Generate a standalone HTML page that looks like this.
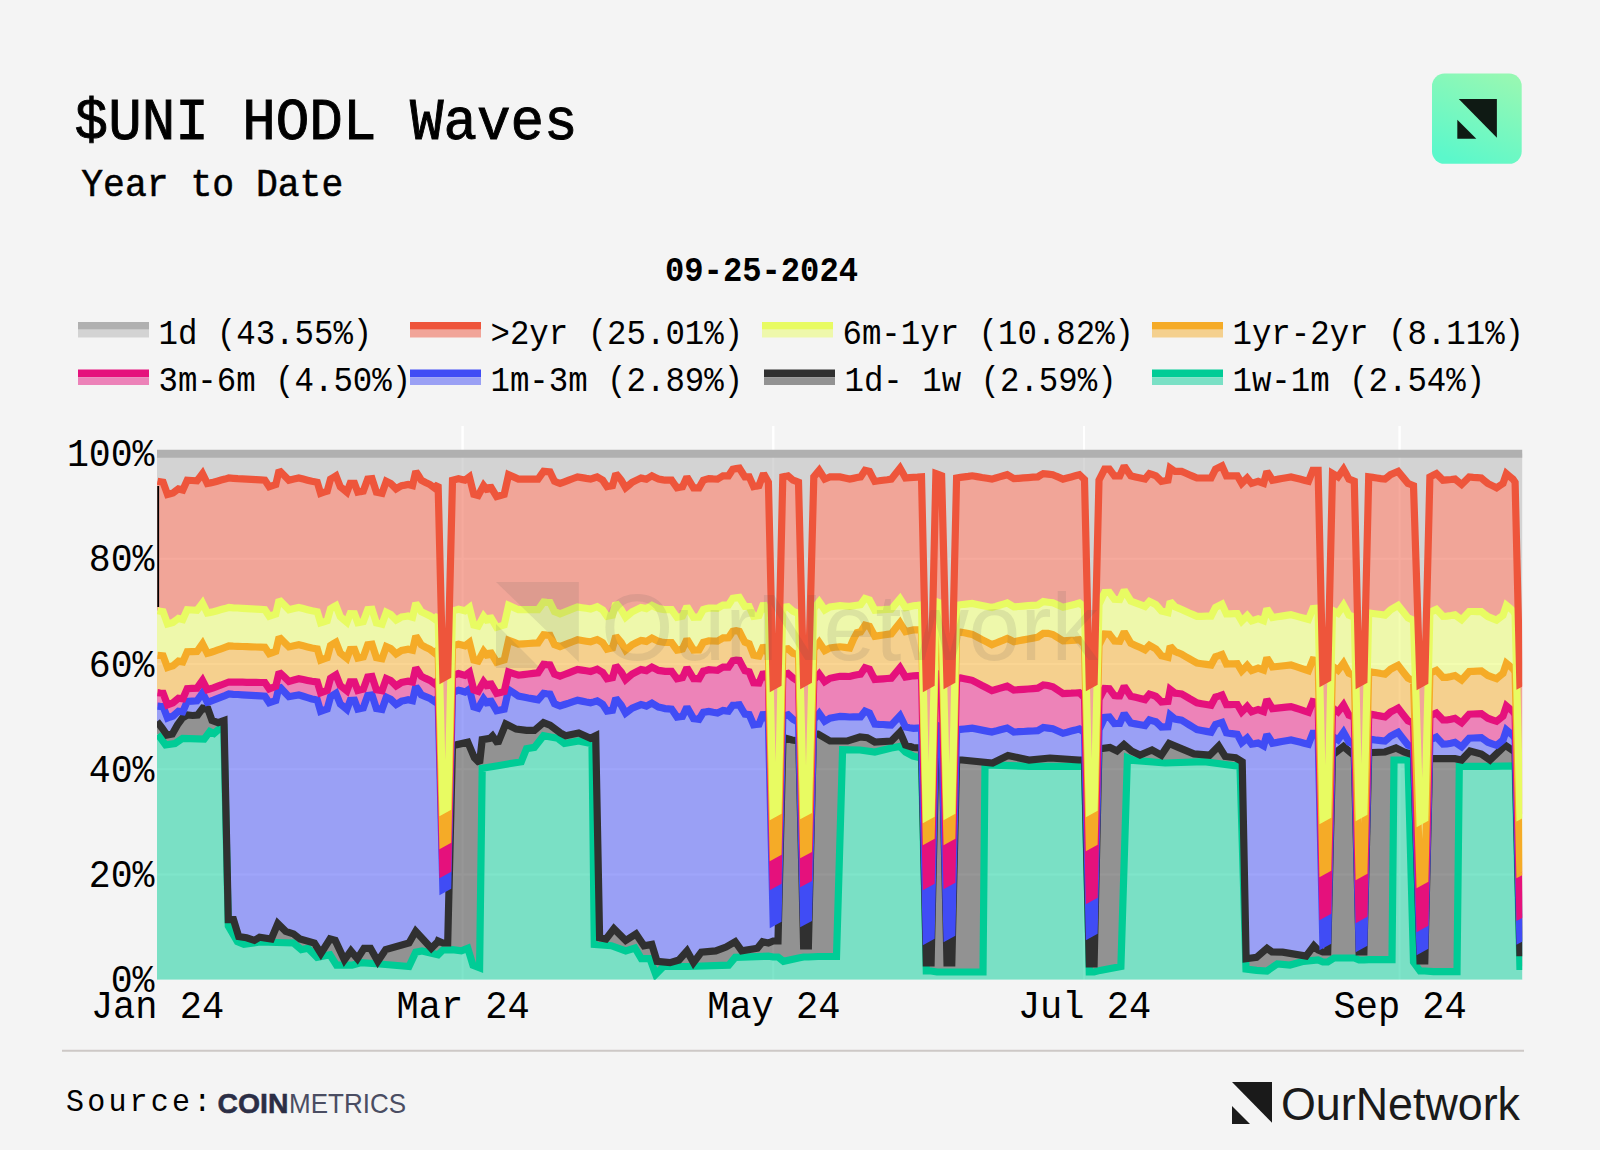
<!DOCTYPE html>
<html><head><meta charset="utf-8"><style>html,body{margin:0;padding:0;background:#f4f4f4;width:1600px;height:1150px;overflow:hidden;position:relative}</style></head>
<body>
<svg width="1600" height="1150" viewBox="0 0 1600 1150" style="position:absolute;left:0;top:0">
<defs><clipPath id="pc"><rect x="157.0" y="426.0" width="1365.2" height="553.7"/></clipPath>
<linearGradient id="lg" x1="0.3" y1="1" x2="0.75" y2="0"><stop offset="0" stop-color="#5bf8cb"/><stop offset="1" stop-color="#96f8b3"/></linearGradient></defs>
<line x1="462.6" y1="426.0" x2="462.6" y2="453.5" stroke="#ffffff" stroke-width="2"/>
<line x1="773.3" y1="426.0" x2="773.3" y2="453.5" stroke="#ffffff" stroke-width="2"/>
<line x1="1084.0" y1="426.0" x2="1084.0" y2="453.5" stroke="#ffffff" stroke-width="2"/>
<line x1="1399.6" y1="426.0" x2="1399.6" y2="453.5" stroke="#ffffff" stroke-width="2"/>
<g clip-path="url(#pc)">
<path d="M157.0 874.5H1522.2 M157.0 769.2H1522.2 M157.0 664.0H1522.2 M157.0 558.7H1522.2 M462.6 426.0V979.7 M773.3 426.0V979.7 M1084.0 426.0V979.7 M1399.6 426.0V979.7" stroke="#ffffff" stroke-width="2" fill="none"/>
<polygon points="147.0,453.8 147.0,453.8 1532.2,453.8 1532.2,453.8 1532.2,681.3 1524.7,681.3 1519.9,683.9 1515.1,482.3 1513.0,479.1 1509.7,476.4 1506.4,473.6 1503.0,483.4 1499.8,485.6 1496.6,487.8 1492.2,485.6 1487.8,483.4 1484.5,480.7 1481.3,478.0 1477.3,477.6 1473.2,477.3 1469.2,476.9 1465.4,480.7 1461.6,484.5 1458.3,481.8 1455.0,479.1 1451.0,479.5 1447.0,479.8 1443.0,480.2 1439.7,476.9 1436.4,473.6 1433.2,475.2 1429.9,476.9 1424.8,681.7 1420.0,684.3 1413.5,485.6 1410.8,484.5 1408.0,483.4 1403.0,477.4 1398.1,471.4 1394.3,473.0 1390.5,474.7 1387.8,476.9 1385.0,479.1 1380.9,478.6 1376.8,478.0 1372.8,477.4 1368.7,476.9 1363.9,680.7 1359.1,683.3 1354.3,481.3 1351.6,480.2 1348.9,479.1 1346.2,474.1 1343.5,469.2 1340.8,473.0 1338.0,476.9 1335.2,475.2 1332.5,473.6 1327.7,678.7 1322.9,681.3 1318.1,470.3 1315.4,470.3 1312.8,470.3 1308.5,481.3 1304.1,480.2 1299.8,479.1 1295.4,478.0 1291.0,476.9 1286.3,477.7 1281.7,478.5 1277.1,479.4 1272.4,480.2 1269.7,475.8 1266.9,471.4 1263.6,483.4 1260.8,482.4 1258.1,481.3 1254.8,482.4 1251.6,483.4 1247.2,478.0 1244.5,480.7 1241.7,483.4 1237.3,475.8 1233.7,475.8 1230.0,475.8 1226.4,475.8 1222.0,466.0 1218.8,467.6 1215.5,469.2 1211.1,478.0 1206.4,478.0 1201.6,478.0 1196.9,478.0 1193.1,476.4 1189.2,474.7 1185.4,473.0 1181.6,471.4 1178.3,471.4 1175.0,471.4 1170.2,468.1 1168.0,480.2 1164.7,480.8 1161.4,481.3 1158.7,478.6 1155.9,475.8 1152.7,474.7 1149.4,473.6 1145.0,479.1 1140.3,478.0 1135.5,476.9 1130.8,475.8 1127.5,470.9 1124.2,466.0 1119.8,475.8 1117.1,475.8 1114.4,475.8 1109.4,469.2 1104.6,469.2 1101.8,474.7 1099.0,480.2 1094.1,682.7 1089.3,685.3 1084.5,479.5 1079.4,474.7 1075.3,475.8 1071.2,476.9 1067.1,478.0 1063.0,479.1 1059.6,477.6 1056.2,476.2 1052.8,474.7 1048.0,474.1 1043.3,473.6 1040.5,475.2 1037.8,476.9 1033.0,477.2 1028.2,477.6 1023.4,477.9 1018.6,478.3 1013.8,478.6 1010.5,476.6 1007.2,474.7 1003.4,475.8 999.5,476.9 995.7,478.0 991.9,479.1 987.0,478.3 982.0,477.5 977.1,476.6 972.2,475.8 968.3,476.4 964.4,476.9 960.5,477.4 956.6,478.0 951.8,680.7 947.0,683.3 941.6,475.8 938.8,474.7 935.9,473.6 931.1,683.7 926.3,686.3 921.5,476.9 917.5,477.2 913.5,477.4 909.5,477.7 905.5,478.0 902.8,473.1 900.0,468.1 895.6,473.6 891.3,479.1 887.2,479.7 883.0,480.2 878.9,480.8 874.8,481.3 872.1,476.4 869.5,471.4 865.0,470.3 860.6,476.9 857.0,477.6 853.3,478.4 849.7,479.1 844.9,478.0 840.0,476.9 835.0,476.9 830.0,476.9 827.4,478.0 824.7,479.1 822.0,474.7 819.2,470.3 816.5,473.6 813.8,476.9 808.4,680.7 803.6,683.3 798.5,482.3 795.8,481.2 793.0,480.2 788.0,475.8 785.4,476.4 782.8,476.9 778.0,683.7 773.2,686.3 768.4,482.3 763.5,473.6 759.0,485.6 756.3,486.1 753.6,486.7 749.2,476.9 744.9,476.9 742.1,472.5 739.4,468.1 736.1,468.6 732.8,469.2 728.5,475.8 725.8,475.8 723.0,475.8 720.2,477.5 717.5,479.1 713.1,478.9 708.8,478.6 706.0,479.4 703.3,480.2 699.0,487.8 696.2,487.8 693.5,487.8 690.2,482.4 686.9,476.9 682.5,486.7 679.8,487.2 677.0,487.8 674.3,484.0 671.6,480.2 668.3,480.2 665.0,480.2 661.8,479.6 658.5,479.1 655.2,477.5 651.9,475.8 649.1,477.5 646.4,479.1 643.7,478.6 641.0,478.0 636.6,480.1 632.2,482.3 628.9,485.1 625.6,487.8 621.3,480.2 618.5,476.9 615.8,473.6 612.5,485.6 609.8,486.1 607.0,486.7 602.7,480.2 600.0,478.5 597.2,476.9 593.9,478.0 590.6,479.1 586.2,478.4 581.9,477.6 577.5,476.9 573.1,478.5 568.8,480.1 564.4,481.8 560.0,483.4 557.2,482.4 554.5,481.3 550.0,472.0 546.8,471.7 543.6,471.4 540.9,475.2 538.1,479.1 533.2,479.1 528.2,479.1 523.3,479.1 518.4,479.1 513.5,476.9 508.6,474.7 504.2,494.4 500.4,495.5 496.6,496.6 493.3,491.1 490.0,485.6 488.0,491.1 483.6,485.6 480.9,490.6 478.2,495.5 473.8,494.4 469.4,476.9 465.0,480.2 461.8,479.4 458.5,478.6 455.5,479.4 452.5,480.2 447.7,675.7 442.9,678.3 438.1,484.5 434.4,487.8 430.0,484.5 425.6,482.4 421.3,480.2 418.6,475.8 415.8,471.4 412.5,485.6 408.1,484.5 404.9,485.1 401.6,485.6 398.9,487.2 396.1,488.9 393.4,486.1 390.7,483.4 386.3,481.3 382.0,493.3 379.2,492.8 376.4,492.2 372.0,478.6 367.7,479.1 363.3,491.1 360.6,491.6 357.8,492.2 354.5,483.4 350.2,483.4 346.9,492.2 343.6,489.4 340.3,486.7 336.0,475.8 333.2,477.5 330.5,479.1 327.2,491.1 323.9,492.2 320.6,493.3 317.3,482.3 314.6,481.8 311.9,481.3 307.5,480.2 303.2,479.1 298.8,478.0 293.9,479.1 288.9,480.2 284.0,475.2 279.1,470.3 275.8,484.5 272.5,485.6 269.2,486.7 264.9,480.2 260.4,479.9 255.9,479.6 251.4,479.4 246.8,479.1 242.3,478.8 237.8,478.6 233.3,478.3 228.8,478.0 225.0,479.1 221.1,480.1 217.2,481.2 213.4,482.3 210.4,482.9 207.3,483.4 202.5,473.6 199.8,477.2 197.0,480.8 192.1,480.5 187.2,480.2 182.8,490.0 178.4,488.9 175.7,490.9 173.0,493.0 170.2,493.7 167.5,494.4 163.1,482.3 160.3,481.8 157.5,481.3 147.0,481.3" fill="#b2b2b2" fill-opacity="0.5"/>
<polygon points="147.0,481.3 157.5,481.3 160.3,481.8 163.1,482.3 167.5,494.4 170.2,493.7 173.0,493.0 175.7,490.9 178.4,488.9 182.8,490.0 187.2,480.2 192.1,480.5 197.0,480.8 199.8,477.2 202.5,473.6 207.3,483.4 210.4,482.9 213.4,482.3 217.2,481.2 221.1,480.1 225.0,479.1 228.8,478.0 233.3,478.3 237.8,478.6 242.3,478.8 246.8,479.1 251.4,479.4 255.9,479.6 260.4,479.9 264.9,480.2 269.2,486.7 272.5,485.6 275.8,484.5 279.1,470.3 284.0,475.2 288.9,480.2 293.9,479.1 298.8,478.0 303.2,479.1 307.5,480.2 311.9,481.3 314.6,481.8 317.3,482.3 320.6,493.3 323.9,492.2 327.2,491.1 330.5,479.1 333.2,477.5 336.0,475.8 340.3,486.7 343.6,489.4 346.9,492.2 350.2,483.4 354.5,483.4 357.8,492.2 360.6,491.6 363.3,491.1 367.7,479.1 372.0,478.6 376.4,492.2 379.2,492.8 382.0,493.3 386.3,481.3 390.7,483.4 393.4,486.1 396.1,488.9 398.9,487.2 401.6,485.6 404.9,485.1 408.1,484.5 412.5,485.6 415.8,471.4 418.6,475.8 421.3,480.2 425.6,482.4 430.0,484.5 434.4,487.8 438.1,484.5 442.9,678.3 447.7,675.7 452.5,480.2 455.5,479.4 458.5,478.6 461.8,479.4 465.0,480.2 469.4,476.9 473.8,494.4 478.2,495.5 480.9,490.6 483.6,485.6 488.0,491.1 490.0,485.6 493.3,491.1 496.6,496.6 500.4,495.5 504.2,494.4 508.6,474.7 513.5,476.9 518.4,479.1 523.3,479.1 528.2,479.1 533.2,479.1 538.1,479.1 540.9,475.2 543.6,471.4 546.8,471.7 550.0,472.0 554.5,481.3 557.2,482.4 560.0,483.4 564.4,481.8 568.8,480.1 573.1,478.5 577.5,476.9 581.9,477.6 586.2,478.4 590.6,479.1 593.9,478.0 597.2,476.9 600.0,478.5 602.7,480.2 607.0,486.7 609.8,486.1 612.5,485.6 615.8,473.6 618.5,476.9 621.3,480.2 625.6,487.8 628.9,485.1 632.2,482.3 636.6,480.1 641.0,478.0 643.7,478.6 646.4,479.1 649.1,477.5 651.9,475.8 655.2,477.5 658.5,479.1 661.8,479.6 665.0,480.2 668.3,480.2 671.6,480.2 674.3,484.0 677.0,487.8 679.8,487.2 682.5,486.7 686.9,476.9 690.2,482.4 693.5,487.8 696.2,487.8 699.0,487.8 703.3,480.2 706.0,479.4 708.8,478.6 713.1,478.9 717.5,479.1 720.2,477.5 723.0,475.8 725.8,475.8 728.5,475.8 732.8,469.2 736.1,468.6 739.4,468.1 742.1,472.5 744.9,476.9 749.2,476.9 753.6,486.7 756.3,486.1 759.0,485.6 763.5,473.6 768.4,482.3 773.2,686.3 778.0,683.7 782.8,476.9 785.4,476.4 788.0,475.8 793.0,480.2 795.8,481.2 798.5,482.3 803.6,683.3 808.4,680.7 813.8,476.9 816.5,473.6 819.2,470.3 822.0,474.7 824.7,479.1 827.4,478.0 830.0,476.9 835.0,476.9 840.0,476.9 844.9,478.0 849.7,479.1 853.3,478.4 857.0,477.6 860.6,476.9 865.0,470.3 869.5,471.4 872.1,476.4 874.8,481.3 878.9,480.8 883.0,480.2 887.2,479.7 891.3,479.1 895.6,473.6 900.0,468.1 902.8,473.1 905.5,478.0 909.5,477.7 913.5,477.4 917.5,477.2 921.5,476.9 926.3,686.3 931.1,683.7 935.9,473.6 938.8,474.7 941.6,475.8 947.0,683.3 951.8,680.7 956.6,478.0 960.5,477.4 964.4,476.9 968.3,476.4 972.2,475.8 977.1,476.6 982.0,477.5 987.0,478.3 991.9,479.1 995.7,478.0 999.5,476.9 1003.4,475.8 1007.2,474.7 1010.5,476.6 1013.8,478.6 1018.6,478.3 1023.4,477.9 1028.2,477.6 1033.0,477.2 1037.8,476.9 1040.5,475.2 1043.3,473.6 1048.0,474.1 1052.8,474.7 1056.2,476.2 1059.6,477.6 1063.0,479.1 1067.1,478.0 1071.2,476.9 1075.3,475.8 1079.4,474.7 1084.5,479.5 1089.3,685.3 1094.1,682.7 1099.0,480.2 1101.8,474.7 1104.6,469.2 1109.4,469.2 1114.4,475.8 1117.1,475.8 1119.8,475.8 1124.2,466.0 1127.5,470.9 1130.8,475.8 1135.5,476.9 1140.3,478.0 1145.0,479.1 1149.4,473.6 1152.7,474.7 1155.9,475.8 1158.7,478.6 1161.4,481.3 1164.7,480.8 1168.0,480.2 1170.2,468.1 1175.0,471.4 1178.3,471.4 1181.6,471.4 1185.4,473.0 1189.2,474.7 1193.1,476.4 1196.9,478.0 1201.6,478.0 1206.4,478.0 1211.1,478.0 1215.5,469.2 1218.8,467.6 1222.0,466.0 1226.4,475.8 1230.0,475.8 1233.7,475.8 1237.3,475.8 1241.7,483.4 1244.5,480.7 1247.2,478.0 1251.6,483.4 1254.8,482.4 1258.1,481.3 1260.8,482.4 1263.6,483.4 1266.9,471.4 1269.7,475.8 1272.4,480.2 1277.1,479.4 1281.7,478.5 1286.3,477.7 1291.0,476.9 1295.4,478.0 1299.8,479.1 1304.1,480.2 1308.5,481.3 1312.8,470.3 1315.4,470.3 1318.1,470.3 1322.9,681.3 1327.7,678.7 1332.5,473.6 1335.2,475.2 1338.0,476.9 1340.8,473.0 1343.5,469.2 1346.2,474.1 1348.9,479.1 1351.6,480.2 1354.3,481.3 1359.1,683.3 1363.9,680.7 1368.7,476.9 1372.8,477.4 1376.8,478.0 1380.9,478.6 1385.0,479.1 1387.8,476.9 1390.5,474.7 1394.3,473.0 1398.1,471.4 1403.0,477.4 1408.0,483.4 1410.8,484.5 1413.5,485.6 1420.0,684.3 1424.8,681.7 1429.9,476.9 1433.2,475.2 1436.4,473.6 1439.7,476.9 1443.0,480.2 1447.0,479.8 1451.0,479.5 1455.0,479.1 1458.3,481.8 1461.6,484.5 1465.4,480.7 1469.2,476.9 1473.2,477.3 1477.3,477.6 1481.3,478.0 1484.5,480.7 1487.8,483.4 1492.2,485.6 1496.6,487.8 1499.8,485.6 1503.0,483.4 1506.4,473.6 1509.7,476.4 1513.0,479.1 1515.1,482.3 1519.9,683.9 1524.7,681.3 1532.2,681.3 1532.2,812.9 1524.7,812.9 1519.9,815.5 1515.1,614.0 1513.0,610.8 1509.7,608.0 1506.4,605.3 1503.0,615.3 1499.8,617.7 1496.6,620.2 1492.2,618.3 1487.8,616.5 1484.5,614.1 1481.3,611.6 1477.3,611.6 1473.2,611.5 1469.2,611.5 1465.4,615.6 1461.6,619.7 1458.3,617.3 1455.0,614.8 1451.0,615.5 1447.0,616.1 1443.0,616.3 1439.7,612.8 1436.4,609.4 1433.2,610.9 1429.9,612.4 1424.8,818.7 1420.0,821.3 1413.5,620.3 1410.8,619.1 1408.0,617.9 1403.0,611.6 1398.1,605.4 1394.3,607.6 1390.5,609.9 1387.8,612.5 1385.0,615.1 1380.9,614.5 1376.8,614.0 1372.8,613.5 1368.7,612.9 1363.9,812.7 1359.1,815.3 1354.3,617.3 1351.6,616.2 1348.9,615.1 1346.2,610.1 1343.5,605.2 1340.8,609.2 1338.0,613.3 1335.2,611.8 1332.5,610.4 1327.7,815.7 1322.9,818.3 1318.1,608.2 1315.4,608.4 1312.8,608.6 1308.5,619.5 1304.1,618.3 1299.8,617.1 1295.4,615.9 1291.0,614.7 1286.3,615.4 1281.7,616.1 1277.1,616.8 1272.4,617.5 1269.7,613.1 1266.9,608.6 1263.6,620.7 1260.8,619.7 1258.1,618.7 1254.8,619.8 1251.6,620.9 1247.2,615.6 1244.5,618.4 1241.7,621.2 1237.3,613.7 1233.7,613.7 1230.0,613.8 1226.4,613.9 1222.0,604.2 1218.8,605.8 1215.5,607.4 1211.1,616.2 1206.4,616.2 1201.6,616.3 1196.9,616.3 1193.1,614.6 1189.2,613.0 1185.4,611.3 1181.6,609.5 1178.3,608.1 1175.0,606.7 1170.2,601.4 1168.0,612.5 1164.7,611.7 1161.4,611.0 1158.7,607.9 1155.9,604.7 1152.7,603.1 1149.4,601.5 1145.0,606.4 1140.3,604.6 1135.5,602.8 1130.8,601.0 1127.5,595.6 1124.2,590.2 1119.8,599.6 1117.1,599.5 1114.4,599.3 1109.4,592.4 1104.6,592.5 1101.8,598.5 1099.0,604.6 1094.1,808.7 1089.3,811.3 1084.5,606.8 1079.4,603.0 1075.3,604.2 1071.2,605.2 1067.1,606.2 1063.0,607.3 1059.6,605.8 1056.2,604.3 1052.8,602.8 1048.0,602.2 1043.3,601.6 1040.5,603.3 1037.8,605.0 1033.0,605.4 1028.2,605.7 1023.4,606.1 1018.6,606.5 1013.8,606.8 1010.5,604.9 1007.2,603.0 1003.4,604.1 999.5,605.2 995.7,606.4 991.9,607.5 987.0,606.5 982.0,605.5 977.1,604.5 972.2,603.5 968.3,603.9 964.4,604.3 960.5,604.8 956.6,605.4 951.8,811.7 947.0,814.3 941.6,603.5 938.8,602.5 935.9,601.4 931.1,814.7 926.3,817.3 921.5,605.0 917.5,605.4 913.5,605.7 909.5,606.7 905.5,607.7 902.8,603.2 900.0,598.8 895.6,604.0 891.3,609.2 887.2,609.4 883.0,609.7 878.9,609.9 874.8,610.2 872.1,605.0 869.5,599.9 865.0,598.5 860.6,604.7 857.0,605.2 853.3,605.8 849.7,606.4 844.9,606.0 840.0,605.6 835.0,606.3 830.0,606.9 827.4,608.4 824.7,609.9 822.0,605.9 819.2,601.8 816.5,605.3 813.8,608.5 808.4,810.7 803.6,813.3 798.5,613.5 795.8,612.4 793.0,611.2 788.0,606.7 785.4,607.1 782.8,607.6 778.0,811.7 773.2,814.3 768.4,612.5 763.5,603.6 759.0,615.5 756.3,616.0 753.6,616.4 749.2,606.5 744.9,606.4 742.1,601.9 739.4,597.4 736.1,597.9 732.8,598.4 728.5,605.0 725.8,605.1 723.0,605.1 720.2,606.7 717.5,608.4 713.1,608.2 708.8,608.0 706.0,608.8 703.3,609.6 699.0,617.2 696.2,617.2 693.5,617.3 690.2,611.8 686.9,606.4 682.5,616.2 679.8,616.8 677.0,617.3 674.3,613.5 671.6,609.7 668.3,609.7 665.0,609.7 661.8,609.1 658.5,608.6 655.2,607.0 651.9,605.3 649.1,607.0 646.4,608.6 643.7,608.0 641.0,607.5 636.6,609.6 632.2,611.8 628.9,614.5 625.6,617.3 621.3,609.7 618.5,606.4 615.8,603.1 612.5,615.2 609.8,615.7 607.0,616.3 602.7,609.9 600.0,608.3 597.2,606.7 593.9,607.8 590.6,609.0 586.2,608.3 581.9,607.7 577.5,607.0 573.1,608.7 568.8,610.4 564.4,612.1 560.0,613.8 557.2,612.7 554.5,611.7 550.0,602.5 546.8,602.3 543.6,602.0 540.9,605.9 538.1,609.7 533.2,609.7 528.2,609.7 523.3,609.7 518.4,609.7 513.5,607.5 508.6,605.3 504.2,625.0 500.4,626.1 496.6,627.2 493.3,621.7 490.0,616.2 488.0,621.7 483.6,616.2 480.9,621.1 478.2,626.1 473.8,625.0 469.4,607.5 465.0,610.8 461.8,610.0 458.5,609.2 455.5,610.1 452.5,611.0 447.7,807.7 442.9,810.3 438.1,615.6 434.4,619.0 430.0,615.9 425.6,613.8 421.3,611.8 418.6,607.4 415.8,603.1 412.5,617.2 408.1,616.0 404.9,616.5 401.6,617.0 398.9,618.6 396.1,620.1 393.4,617.3 390.7,614.5 386.3,612.3 382.0,624.2 379.2,623.6 376.4,623.0 372.0,609.3 367.7,609.7 363.3,621.6 360.6,622.1 357.8,622.6 354.5,613.7 350.2,613.6 346.9,622.3 343.6,619.5 340.3,616.6 336.0,605.6 333.2,607.2 330.5,608.8 327.2,620.7 323.9,621.8 320.6,622.8 317.3,611.8 314.6,611.3 311.9,610.8 307.5,609.7 303.2,608.6 298.8,607.5 293.9,608.6 288.9,609.7 284.0,604.8 279.1,599.8 275.8,614.0 272.5,615.1 269.2,616.2 264.9,609.7 260.4,609.4 255.9,609.1 251.4,608.9 246.8,608.6 242.3,608.3 237.8,608.0 233.3,607.8 228.8,607.5 225.0,608.6 221.1,609.6 217.2,610.7 213.4,611.8 210.4,612.4 207.3,612.9 202.5,603.1 199.8,606.7 197.0,610.3 192.1,610.0 187.2,609.7 182.8,619.5 178.4,618.4 175.7,620.5 173.0,622.5 170.2,623.2 167.5,623.9 163.1,611.8 160.3,611.3 157.5,610.8 147.0,610.8" fill="#ee553b" fill-opacity="0.5"/>
<polygon points="147.0,610.8 157.5,610.8 160.3,611.3 163.1,611.8 167.5,623.9 170.2,623.2 173.0,622.5 175.7,620.5 178.4,618.4 182.8,619.5 187.2,609.7 192.1,610.0 197.0,610.3 199.8,606.7 202.5,603.1 207.3,612.9 210.4,612.4 213.4,611.8 217.2,610.7 221.1,609.6 225.0,608.6 228.8,607.5 233.3,607.8 237.8,608.0 242.3,608.3 246.8,608.6 251.4,608.9 255.9,609.1 260.4,609.4 264.9,609.7 269.2,616.2 272.5,615.1 275.8,614.0 279.1,599.8 284.0,604.8 288.9,609.7 293.9,608.6 298.8,607.5 303.2,608.6 307.5,609.7 311.9,610.8 314.6,611.3 317.3,611.8 320.6,622.8 323.9,621.8 327.2,620.7 330.5,608.8 333.2,607.2 336.0,605.6 340.3,616.6 343.6,619.5 346.9,622.3 350.2,613.6 354.5,613.7 357.8,622.6 360.6,622.1 363.3,621.6 367.7,609.7 372.0,609.3 376.4,623.0 379.2,623.6 382.0,624.2 386.3,612.3 390.7,614.5 393.4,617.3 396.1,620.1 398.9,618.6 401.6,617.0 404.9,616.5 408.1,616.0 412.5,617.2 415.8,603.1 418.6,607.4 421.3,611.8 425.6,613.8 430.0,615.9 434.4,619.0 438.1,615.6 442.9,810.3 447.7,807.7 452.5,611.0 455.5,610.1 458.5,609.2 461.8,610.0 465.0,610.8 469.4,607.5 473.8,625.0 478.2,626.1 480.9,621.1 483.6,616.2 488.0,621.7 490.0,616.2 493.3,621.7 496.6,627.2 500.4,626.1 504.2,625.0 508.6,605.3 513.5,607.5 518.4,609.7 523.3,609.7 528.2,609.7 533.2,609.7 538.1,609.7 540.9,605.9 543.6,602.0 546.8,602.3 550.0,602.5 554.5,611.7 557.2,612.7 560.0,613.8 564.4,612.1 568.8,610.4 573.1,608.7 577.5,607.0 581.9,607.7 586.2,608.3 590.6,609.0 593.9,607.8 597.2,606.7 600.0,608.3 602.7,609.9 607.0,616.3 609.8,615.7 612.5,615.2 615.8,603.1 618.5,606.4 621.3,609.7 625.6,617.3 628.9,614.5 632.2,611.8 636.6,609.6 641.0,607.5 643.7,608.0 646.4,608.6 649.1,607.0 651.9,605.3 655.2,607.0 658.5,608.6 661.8,609.1 665.0,609.7 668.3,609.7 671.6,609.7 674.3,613.5 677.0,617.3 679.8,616.8 682.5,616.2 686.9,606.4 690.2,611.8 693.5,617.3 696.2,617.2 699.0,617.2 703.3,609.6 706.0,608.8 708.8,608.0 713.1,608.2 717.5,608.4 720.2,606.7 723.0,605.1 725.8,605.1 728.5,605.0 732.8,598.4 736.1,597.9 739.4,597.4 742.1,601.9 744.9,606.4 749.2,606.5 753.6,616.4 756.3,616.0 759.0,615.5 763.5,603.6 768.4,612.5 773.2,814.3 778.0,811.7 782.8,607.6 785.4,607.1 788.0,606.7 793.0,611.2 795.8,612.4 798.5,613.5 803.6,813.3 808.4,810.7 813.8,608.5 816.5,605.3 819.2,601.8 822.0,605.9 824.7,609.9 827.4,608.4 830.0,606.9 835.0,606.3 840.0,605.6 844.9,606.0 849.7,606.4 853.3,605.8 857.0,605.2 860.6,604.7 865.0,598.5 869.5,599.9 872.1,605.0 874.8,610.2 878.9,609.9 883.0,609.7 887.2,609.4 891.3,609.2 895.6,604.0 900.0,598.8 902.8,603.2 905.5,607.7 909.5,606.7 913.5,605.7 917.5,605.4 921.5,605.0 926.3,817.3 931.1,814.7 935.9,601.4 938.8,602.5 941.6,603.5 947.0,814.3 951.8,811.7 956.6,605.4 960.5,604.8 964.4,604.3 968.3,603.9 972.2,603.5 977.1,604.5 982.0,605.5 987.0,606.5 991.9,607.5 995.7,606.4 999.5,605.2 1003.4,604.1 1007.2,603.0 1010.5,604.9 1013.8,606.8 1018.6,606.5 1023.4,606.1 1028.2,605.7 1033.0,605.4 1037.8,605.0 1040.5,603.3 1043.3,601.6 1048.0,602.2 1052.8,602.8 1056.2,604.3 1059.6,605.8 1063.0,607.3 1067.1,606.2 1071.2,605.2 1075.3,604.2 1079.4,603.0 1084.5,606.8 1089.3,811.3 1094.1,808.7 1099.0,604.6 1101.8,598.5 1104.6,592.5 1109.4,592.4 1114.4,599.3 1117.1,599.5 1119.8,599.6 1124.2,590.2 1127.5,595.6 1130.8,601.0 1135.5,602.8 1140.3,604.6 1145.0,606.4 1149.4,601.5 1152.7,603.1 1155.9,604.7 1158.7,607.9 1161.4,611.0 1164.7,611.7 1168.0,612.5 1170.2,601.4 1175.0,606.7 1178.3,608.1 1181.6,609.5 1185.4,611.3 1189.2,613.0 1193.1,614.6 1196.9,616.3 1201.6,616.3 1206.4,616.2 1211.1,616.2 1215.5,607.4 1218.8,605.8 1222.0,604.2 1226.4,613.9 1230.0,613.8 1233.7,613.7 1237.3,613.7 1241.7,621.2 1244.5,618.4 1247.2,615.6 1251.6,620.9 1254.8,619.8 1258.1,618.7 1260.8,619.7 1263.6,620.7 1266.9,608.6 1269.7,613.1 1272.4,617.5 1277.1,616.8 1281.7,616.1 1286.3,615.4 1291.0,614.7 1295.4,615.9 1299.8,617.1 1304.1,618.3 1308.5,619.5 1312.8,608.6 1315.4,608.4 1318.1,608.2 1322.9,818.3 1327.7,815.7 1332.5,610.4 1335.2,611.8 1338.0,613.3 1340.8,609.2 1343.5,605.2 1346.2,610.1 1348.9,615.1 1351.6,616.2 1354.3,617.3 1359.1,815.3 1363.9,812.7 1368.7,612.9 1372.8,613.5 1376.8,614.0 1380.9,614.5 1385.0,615.1 1387.8,612.5 1390.5,609.9 1394.3,607.6 1398.1,605.4 1403.0,611.6 1408.0,617.9 1410.8,619.1 1413.5,620.3 1420.0,821.3 1424.8,818.7 1429.9,612.4 1433.2,610.9 1436.4,609.4 1439.7,612.8 1443.0,616.3 1447.0,616.1 1451.0,615.5 1455.0,614.8 1458.3,617.3 1461.6,619.7 1465.4,615.6 1469.2,611.5 1473.2,611.5 1477.3,611.6 1481.3,611.6 1484.5,614.1 1487.8,616.5 1492.2,618.3 1496.6,620.2 1499.8,617.7 1503.0,615.3 1506.4,605.3 1509.7,608.0 1513.0,610.8 1515.1,614.0 1519.9,815.5 1524.7,812.9 1532.2,812.9 1532.2,869.8 1524.7,869.8 1519.9,872.4 1515.1,672.0 1513.0,668.8 1509.7,666.0 1506.4,663.3 1503.0,673.4 1499.8,676.0 1496.6,678.6 1492.2,677.1 1487.8,675.5 1484.5,673.2 1481.3,670.9 1477.3,671.1 1473.2,671.3 1469.2,671.5 1465.4,675.8 1461.6,680.1 1458.3,677.9 1455.0,675.6 1451.0,676.6 1447.0,677.3 1443.0,677.4 1439.7,673.8 1436.4,670.3 1433.2,671.7 1429.9,673.1 1424.8,879.7 1420.0,882.3 1413.5,680.7 1410.8,679.4 1408.0,678.1 1403.0,671.8 1398.1,665.4 1394.3,667.3 1390.5,669.3 1387.8,671.7 1385.0,674.1 1380.9,673.5 1376.8,672.8 1372.8,672.2 1368.7,671.5 1363.9,871.7 1359.1,874.3 1354.3,675.6 1351.6,674.4 1348.9,673.2 1346.2,668.2 1343.5,663.2 1340.8,666.7 1338.0,670.2 1335.2,668.1 1332.5,666.1 1327.7,868.7 1322.9,871.3 1318.1,660.7 1315.4,660.4 1312.8,660.0 1308.5,670.7 1304.1,669.3 1299.8,667.8 1295.4,666.4 1291.0,665.0 1286.3,665.5 1281.7,666.0 1277.1,666.5 1272.4,667.0 1269.7,662.4 1266.9,657.8 1263.6,670.0 1260.8,669.0 1258.1,668.1 1254.8,669.3 1251.6,670.5 1247.2,665.3 1244.5,668.2 1241.7,671.0 1237.3,663.6 1233.7,663.8 1230.0,663.9 1226.4,664.1 1222.0,654.5 1218.8,655.7 1215.5,656.8 1211.1,665.0 1206.4,664.4 1201.6,663.7 1196.9,663.0 1193.1,660.9 1189.2,658.7 1185.4,656.5 1181.6,654.2 1178.3,652.8 1175.0,651.5 1170.2,646.1 1168.0,657.3 1164.7,656.5 1161.4,655.8 1158.7,652.4 1155.9,649.0 1152.7,647.1 1149.4,645.3 1145.0,649.8 1140.3,647.6 1135.5,645.4 1130.8,643.2 1127.5,637.5 1124.2,631.9 1119.8,641.2 1117.1,641.1 1114.4,641.0 1109.4,634.2 1104.6,634.0 1101.8,639.5 1099.0,645.1 1094.1,842.7 1089.3,845.3 1084.5,644.5 1079.4,639.7 1075.3,640.1 1071.2,640.3 1067.1,640.6 1063.0,640.9 1059.6,638.8 1056.2,636.6 1052.8,634.5 1048.0,633.3 1043.3,633.3 1040.5,635.2 1037.8,637.2 1033.0,638.1 1028.2,639.0 1023.4,639.9 1018.6,640.8 1013.8,641.7 1010.5,640.1 1007.2,638.5 1003.4,640.1 999.5,641.6 995.7,643.2 991.9,644.7 987.0,642.1 982.0,639.6 977.1,637.0 972.2,634.4 968.3,633.6 964.4,632.8 960.5,632.1 956.6,632.5 951.8,836.7 947.0,839.3 941.6,629.6 938.8,628.3 935.9,627.1 931.1,836.7 926.3,839.3 921.5,629.7 917.5,629.8 913.5,629.9 909.5,630.7 905.5,631.7 902.8,627.3 900.0,622.8 895.6,628.3 891.3,633.9 887.2,634.4 883.0,635.0 878.9,635.6 874.8,636.2 872.1,631.2 869.5,626.3 865.0,625.2 860.6,631.9 857.0,632.6 853.3,639.5 849.7,648.0 844.9,647.4 840.0,646.8 835.0,647.3 830.0,647.9 827.4,649.2 824.7,650.6 822.0,646.5 819.2,642.4 816.5,645.8 813.8,649.2 808.4,849.7 803.6,852.3 798.5,655.1 795.8,654.1 793.0,653.2 788.0,648.7 785.4,649.1 782.8,649.6 778.0,852.7 773.2,855.3 768.4,654.5 763.5,645.6 759.0,656.1 756.3,655.7 753.6,655.2 749.2,643.8 744.9,642.2 742.1,636.8 739.4,631.4 736.1,630.7 732.8,631.2 728.5,637.8 725.8,637.9 723.0,637.9 720.2,639.5 717.5,641.2 713.1,641.0 708.8,640.8 706.0,641.6 703.3,642.4 699.0,650.0 696.2,650.0 693.5,650.1 690.2,644.6 686.9,639.2 682.5,649.0 679.8,649.6 677.0,650.1 674.3,646.3 671.6,642.5 668.3,642.5 665.0,642.5 661.8,642.0 658.5,641.4 655.2,639.8 651.9,638.1 649.1,639.8 646.4,641.5 643.7,640.9 641.0,640.4 636.6,642.5 632.2,644.7 628.9,647.4 625.6,650.2 621.3,642.6 618.5,639.3 615.8,636.0 612.5,648.0 609.8,648.6 607.0,649.2 602.7,642.8 600.0,641.2 597.2,639.6 593.9,640.7 590.6,641.9 586.2,641.2 581.9,640.5 577.5,639.8 573.1,641.5 568.8,643.2 564.4,644.9 560.0,646.6 557.2,645.6 554.5,644.6 550.0,635.3 546.8,635.1 543.6,634.8 540.9,638.8 538.1,642.9 533.2,643.2 528.2,643.5 523.3,643.8 518.4,644.1 513.5,642.2 508.6,640.3 504.2,660.0 500.4,661.1 496.6,662.2 493.3,656.7 490.0,651.2 488.0,656.7 483.6,651.2 480.9,656.1 478.2,661.1 473.8,660.0 469.4,642.5 465.0,645.8 461.8,645.0 458.5,644.2 455.5,644.9 452.5,645.6 447.7,840.7 442.9,843.3 438.1,649.6 434.4,652.8 430.0,649.4 425.6,647.2 421.3,644.9 418.6,640.5 415.8,636.0 412.5,650.3 408.1,649.3 404.9,649.9 401.6,650.5 398.9,652.2 396.1,653.9 393.4,651.2 390.7,648.6 386.3,646.6 382.0,658.7 379.2,658.2 376.4,657.7 372.0,644.2 367.7,644.8 363.3,656.9 360.6,657.5 357.8,658.1 354.5,649.4 350.2,649.5 346.9,658.3 343.6,655.7 340.3,653.0 336.0,642.2 333.2,643.9 330.5,645.6 327.2,657.7 323.9,658.8 320.6,660.0 317.3,649.0 314.6,648.5 311.9,648.0 307.5,646.9 303.2,645.8 298.8,644.7 293.9,645.8 288.9,646.9 284.0,642.0 279.1,637.0 275.8,651.3 272.5,652.5 269.2,653.7 264.9,647.3 260.4,647.1 255.9,647.0 251.4,646.8 246.8,646.6 242.3,646.5 237.8,646.3 233.3,646.2 228.8,646.0 225.0,647.4 221.1,648.8 217.2,650.2 213.4,651.6 210.4,652.4 207.3,653.2 202.5,643.8 199.8,647.6 197.0,651.5 192.1,651.6 187.2,651.7 182.8,661.9 178.4,661.1 175.7,663.4 173.0,665.7 170.2,666.6 167.5,667.5 163.1,655.8 160.3,655.5 157.5,655.3 147.0,655.3" fill="#e8fb62" fill-opacity="0.5"/>
<polygon points="147.0,655.3 157.5,655.3 160.3,655.5 163.1,655.8 167.5,667.5 170.2,666.6 173.0,665.7 175.7,663.4 178.4,661.1 182.8,661.9 187.2,651.7 192.1,651.6 197.0,651.5 199.8,647.6 202.5,643.8 207.3,653.2 210.4,652.4 213.4,651.6 217.2,650.2 221.1,648.8 225.0,647.4 228.8,646.0 233.3,646.2 237.8,646.3 242.3,646.5 246.8,646.6 251.4,646.8 255.9,647.0 260.4,647.1 264.9,647.3 269.2,653.7 272.5,652.5 275.8,651.3 279.1,637.0 284.0,642.0 288.9,646.9 293.9,645.8 298.8,644.7 303.2,645.8 307.5,646.9 311.9,648.0 314.6,648.5 317.3,649.0 320.6,660.0 323.9,658.8 327.2,657.7 330.5,645.6 333.2,643.9 336.0,642.2 340.3,653.0 343.6,655.7 346.9,658.3 350.2,649.5 354.5,649.4 357.8,658.1 360.6,657.5 363.3,656.9 367.7,644.8 372.0,644.2 376.4,657.7 379.2,658.2 382.0,658.7 386.3,646.6 390.7,648.6 393.4,651.2 396.1,653.9 398.9,652.2 401.6,650.5 404.9,649.9 408.1,649.3 412.5,650.3 415.8,636.0 418.6,640.5 421.3,644.9 425.6,647.2 430.0,649.4 434.4,652.8 438.1,649.6 442.9,843.3 447.7,840.7 452.5,645.6 455.5,644.9 458.5,644.2 461.8,645.0 465.0,645.8 469.4,642.5 473.8,660.0 478.2,661.1 480.9,656.1 483.6,651.2 488.0,656.7 490.0,651.2 493.3,656.7 496.6,662.2 500.4,661.1 504.2,660.0 508.6,640.3 513.5,642.2 518.4,644.1 523.3,643.8 528.2,643.5 533.2,643.2 538.1,642.9 540.9,638.8 543.6,634.8 546.8,635.1 550.0,635.3 554.5,644.6 557.2,645.6 560.0,646.6 564.4,644.9 568.8,643.2 573.1,641.5 577.5,639.8 581.9,640.5 586.2,641.2 590.6,641.9 593.9,640.7 597.2,639.6 600.0,641.2 602.7,642.8 607.0,649.2 609.8,648.6 612.5,648.0 615.8,636.0 618.5,639.3 621.3,642.6 625.6,650.2 628.9,647.4 632.2,644.7 636.6,642.5 641.0,640.4 643.7,640.9 646.4,641.5 649.1,639.8 651.9,638.1 655.2,639.8 658.5,641.4 661.8,642.0 665.0,642.5 668.3,642.5 671.6,642.5 674.3,646.3 677.0,650.1 679.8,649.6 682.5,649.0 686.9,639.2 690.2,644.6 693.5,650.1 696.2,650.0 699.0,650.0 703.3,642.4 706.0,641.6 708.8,640.8 713.1,641.0 717.5,641.2 720.2,639.5 723.0,637.9 725.8,637.9 728.5,637.8 732.8,631.2 736.1,630.7 739.4,631.4 742.1,636.8 744.9,642.2 749.2,643.8 753.6,655.2 756.3,655.7 759.0,656.1 763.5,645.6 768.4,654.5 773.2,855.3 778.0,852.7 782.8,649.6 785.4,649.1 788.0,648.7 793.0,653.2 795.8,654.1 798.5,655.1 803.6,852.3 808.4,849.7 813.8,649.2 816.5,645.8 819.2,642.4 822.0,646.5 824.7,650.6 827.4,649.2 830.0,647.9 835.0,647.3 840.0,646.8 844.9,647.4 849.7,648.0 853.3,639.5 857.0,632.6 860.6,631.9 865.0,625.2 869.5,626.3 872.1,631.2 874.8,636.2 878.9,635.6 883.0,635.0 887.2,634.4 891.3,633.9 895.6,628.3 900.0,622.8 902.8,627.3 905.5,631.7 909.5,630.7 913.5,629.9 917.5,629.8 921.5,629.7 926.3,839.3 931.1,836.7 935.9,627.1 938.8,628.3 941.6,629.6 947.0,839.3 951.8,836.7 956.6,632.5 960.5,632.1 964.4,632.8 968.3,633.6 972.2,634.4 977.1,637.0 982.0,639.6 987.0,642.1 991.9,644.7 995.7,643.2 999.5,641.6 1003.4,640.1 1007.2,638.5 1010.5,640.1 1013.8,641.7 1018.6,640.8 1023.4,639.9 1028.2,639.0 1033.0,638.1 1037.8,637.2 1040.5,635.2 1043.3,633.3 1048.0,633.3 1052.8,634.5 1056.2,636.6 1059.6,638.8 1063.0,640.9 1067.1,640.6 1071.2,640.3 1075.3,640.1 1079.4,639.7 1084.5,644.5 1089.3,845.3 1094.1,842.7 1099.0,645.1 1101.8,639.5 1104.6,634.0 1109.4,634.2 1114.4,641.0 1117.1,641.1 1119.8,641.2 1124.2,631.9 1127.5,637.5 1130.8,643.2 1135.5,645.4 1140.3,647.6 1145.0,649.8 1149.4,645.3 1152.7,647.1 1155.9,649.0 1158.7,652.4 1161.4,655.8 1164.7,656.5 1168.0,657.3 1170.2,646.1 1175.0,651.5 1178.3,652.8 1181.6,654.2 1185.4,656.5 1189.2,658.7 1193.1,660.9 1196.9,663.0 1201.6,663.7 1206.4,664.4 1211.1,665.0 1215.5,656.8 1218.8,655.7 1222.0,654.5 1226.4,664.1 1230.0,663.9 1233.7,663.8 1237.3,663.6 1241.7,671.0 1244.5,668.2 1247.2,665.3 1251.6,670.5 1254.8,669.3 1258.1,668.1 1260.8,669.0 1263.6,670.0 1266.9,657.8 1269.7,662.4 1272.4,667.0 1277.1,666.5 1281.7,666.0 1286.3,665.5 1291.0,665.0 1295.4,666.4 1299.8,667.8 1304.1,669.3 1308.5,670.7 1312.8,660.0 1315.4,660.4 1318.1,660.7 1322.9,871.3 1327.7,868.7 1332.5,666.1 1335.2,668.1 1338.0,670.2 1340.8,666.7 1343.5,663.2 1346.2,668.2 1348.9,673.2 1351.6,674.4 1354.3,675.6 1359.1,874.3 1363.9,871.7 1368.7,671.5 1372.8,672.2 1376.8,672.8 1380.9,673.5 1385.0,674.1 1387.8,671.7 1390.5,669.3 1394.3,667.3 1398.1,665.4 1403.0,671.8 1408.0,678.1 1410.8,679.4 1413.5,680.7 1420.0,882.3 1424.8,879.7 1429.9,673.1 1433.2,671.7 1436.4,670.3 1439.7,673.8 1443.0,677.4 1447.0,677.3 1451.0,676.6 1455.0,675.6 1458.3,677.9 1461.6,680.1 1465.4,675.8 1469.2,671.5 1473.2,671.3 1477.3,671.1 1481.3,670.9 1484.5,673.2 1487.8,675.5 1492.2,677.1 1496.6,678.6 1499.8,676.0 1503.0,673.4 1506.4,663.3 1509.7,666.0 1513.0,668.8 1515.1,672.0 1519.9,872.4 1524.7,869.8 1532.2,869.8 1532.2,912.5 1524.7,912.5 1519.9,915.1 1515.1,714.7 1513.0,711.5 1509.7,708.8 1506.4,706.0 1503.0,716.1 1499.8,718.7 1496.6,721.3 1492.2,719.8 1487.8,718.2 1484.5,715.9 1481.3,713.6 1477.3,713.8 1473.2,714.0 1469.2,714.2 1465.4,718.5 1461.6,722.8 1458.3,720.6 1455.0,718.3 1451.0,719.3 1447.0,720.0 1443.0,720.0 1439.7,716.5 1436.4,713.0 1433.2,714.4 1429.9,715.8 1424.8,923.7 1420.0,926.3 1413.5,723.4 1410.8,722.1 1408.0,720.8 1403.0,714.5 1398.1,708.1 1394.3,710.1 1390.5,712.0 1387.8,714.5 1385.0,716.9 1380.9,716.1 1376.8,715.4 1372.8,714.6 1368.7,713.9 1363.9,914.7 1359.1,917.3 1354.3,717.6 1351.6,716.3 1348.9,715.1 1346.2,710.0 1343.5,704.9 1340.8,708.4 1338.0,711.9 1335.2,709.8 1332.5,707.8 1327.7,911.7 1322.9,914.3 1318.1,702.3 1315.4,702.0 1312.8,701.6 1308.5,712.3 1304.1,710.9 1299.8,709.4 1295.4,708.0 1291.0,706.6 1286.3,707.1 1281.7,707.6 1277.1,708.1 1272.4,708.6 1269.7,704.0 1266.9,699.4 1263.6,711.5 1260.8,710.5 1258.1,709.5 1254.8,710.6 1251.6,711.7 1247.2,706.4 1244.5,709.2 1241.7,712.0 1237.3,704.5 1233.7,704.5 1230.0,704.6 1226.4,704.7 1222.0,695.0 1218.8,696.1 1215.5,697.1 1211.1,705.2 1206.4,704.5 1201.6,703.7 1196.9,702.9 1193.1,700.6 1189.2,698.4 1185.4,696.1 1181.6,693.9 1178.3,693.5 1175.0,693.2 1170.2,689.5 1168.0,701.4 1164.7,701.6 1161.4,701.9 1158.7,699.1 1155.9,696.4 1152.7,695.2 1149.4,694.1 1145.0,699.6 1140.3,698.4 1135.5,697.3 1130.8,696.2 1127.5,691.2 1124.2,686.3 1119.8,695.9 1117.1,695.8 1114.4,695.6 1109.4,688.8 1104.6,688.5 1101.8,693.9 1099.0,699.2 1094.1,895.7 1089.3,898.3 1084.5,697.8 1079.4,692.7 1075.3,693.0 1071.2,693.2 1067.1,693.3 1063.0,693.5 1059.6,691.3 1056.2,689.1 1052.8,686.8 1048.0,685.5 1043.3,684.9 1040.5,686.6 1037.8,688.2 1033.0,688.6 1028.2,689.0 1023.4,689.3 1018.6,689.7 1013.8,690.0 1010.5,688.1 1007.2,686.1 1003.4,687.3 999.5,688.4 995.7,689.5 991.9,690.6 987.0,688.0 982.0,685.5 977.1,682.9 972.2,680.3 968.3,679.5 964.4,678.7 960.5,678.0 956.6,678.4 951.8,880.7 947.0,883.3 941.6,675.5 938.8,674.2 935.9,673.0 931.1,881.7 926.3,884.3 921.5,675.6 917.5,675.7 913.5,675.8 909.5,676.4 905.5,677.0 902.8,672.4 900.0,667.7 895.6,672.9 891.3,678.2 887.2,678.5 883.0,678.8 878.9,679.1 874.8,679.4 872.1,674.3 869.5,669.2 865.0,667.8 860.6,674.2 857.0,674.7 853.3,675.5 849.7,676.5 844.9,676.4 840.0,676.3 835.0,677.3 830.0,678.3 827.4,680.0 824.7,681.6 822.0,677.8 819.2,674.0 816.5,677.1 813.8,679.8 808.4,878.7 803.6,881.3 798.5,681.4 795.8,679.7 793.0,677.9 788.0,673.4 785.4,674.1 782.8,674.7 778.0,881.7 773.2,884.3 768.4,680.5 763.5,672.0 759.0,683.0 756.3,682.8 753.6,682.7 749.2,671.8 744.9,670.7 742.1,665.6 739.4,660.5 736.1,660.2 732.8,660.7 728.5,667.2 725.8,667.2 723.0,667.1 720.2,668.7 717.5,670.3 713.1,670.0 708.8,669.7 706.0,670.5 703.3,671.2 699.0,678.8 696.2,678.7 693.5,678.7 690.2,673.2 686.9,667.7 682.5,677.6 679.8,678.2 677.0,678.8 674.3,675.0 671.6,671.3 668.3,671.3 665.0,671.4 661.8,670.9 658.5,670.4 655.2,668.8 651.9,667.2 649.1,668.9 646.4,670.6 643.7,670.1 641.0,669.6 636.6,671.8 632.2,674.0 628.9,676.8 625.6,679.6 621.3,672.1 618.5,668.9 615.8,665.6 612.5,677.6 609.8,678.2 607.0,678.8 602.7,672.4 600.0,670.8 597.2,669.2 593.9,670.3 590.6,671.5 586.2,670.8 581.9,670.1 577.5,669.4 573.1,671.1 568.8,672.8 564.4,674.5 560.0,676.2 557.2,675.2 554.5,674.2 550.0,664.9 546.8,664.7 543.6,664.4 540.9,668.6 538.1,672.8 533.2,673.4 528.2,674.0 523.3,674.6 518.4,675.2 513.5,673.6 508.6,672.0 504.2,691.5 500.4,692.4 496.6,693.3 493.3,687.7 490.0,682.0 488.0,687.4 483.6,681.7 480.9,686.5 478.2,691.4 473.8,690.0 469.4,672.3 465.0,675.4 461.8,674.5 458.5,673.6 455.5,674.5 452.5,675.4 447.7,869.7 442.9,872.3 438.1,680.1 434.4,683.6 430.0,680.4 425.6,678.4 421.3,676.3 418.6,672.0 415.8,667.7 412.5,682.0 408.1,681.1 404.9,681.7 401.6,682.4 398.9,684.1 396.1,685.9 393.4,683.2 390.7,680.6 386.3,678.6 382.0,690.7 379.2,690.3 376.4,689.8 372.0,676.4 367.7,677.0 363.3,689.2 360.6,689.8 357.8,690.5 354.5,681.8 350.2,681.9 346.9,690.8 343.6,688.2 340.3,685.5 336.0,674.8 333.2,676.5 330.5,678.3 327.2,690.4 323.9,691.6 320.6,692.8 317.3,682.0 314.6,681.6 311.9,681.3 307.5,680.4 303.2,679.5 298.8,678.7 293.9,680.0 288.9,681.4 284.0,676.7 279.1,672.0 275.8,686.3 272.5,687.6 269.2,688.9 264.9,682.5 260.4,682.5 255.9,682.4 251.4,682.3 246.8,682.3 242.3,682.2 237.8,682.1 233.3,682.1 228.8,682.0 225.0,683.5 221.1,685.0 217.2,686.4 213.4,687.9 210.4,688.8 207.3,689.7 202.5,680.4 199.8,684.2 197.0,688.1 192.1,688.3 187.2,688.6 182.8,698.8 178.4,698.2 175.7,700.5 173.0,702.8 170.2,703.8 167.5,704.8 163.1,693.2 160.3,693.0 157.5,692.7 147.0,692.7" fill="#f5ab27" fill-opacity="0.5"/>
<polygon points="147.0,692.7 157.5,692.7 160.3,693.0 163.1,693.2 167.5,704.8 170.2,703.8 173.0,702.8 175.7,700.5 178.4,698.2 182.8,698.8 187.2,688.6 192.1,688.3 197.0,688.1 199.8,684.2 202.5,680.4 207.3,689.7 210.4,688.8 213.4,687.9 217.2,686.4 221.1,685.0 225.0,683.5 228.8,682.0 233.3,682.1 237.8,682.1 242.3,682.2 246.8,682.3 251.4,682.3 255.9,682.4 260.4,682.5 264.9,682.5 269.2,688.9 272.5,687.6 275.8,686.3 279.1,672.0 284.0,676.7 288.9,681.4 293.9,680.0 298.8,678.7 303.2,679.5 307.5,680.4 311.9,681.3 314.6,681.6 317.3,682.0 320.6,692.8 323.9,691.6 327.2,690.4 330.5,678.3 333.2,676.5 336.0,674.8 340.3,685.5 343.6,688.2 346.9,690.8 350.2,681.9 354.5,681.8 357.8,690.5 360.6,689.8 363.3,689.2 367.7,677.0 372.0,676.4 376.4,689.8 379.2,690.3 382.0,690.7 386.3,678.6 390.7,680.6 393.4,683.2 396.1,685.9 398.9,684.1 401.6,682.4 404.9,681.7 408.1,681.1 412.5,682.0 415.8,667.7 418.6,672.0 421.3,676.3 425.6,678.4 430.0,680.4 434.4,683.6 438.1,680.1 442.9,872.3 447.7,869.7 452.5,675.4 455.5,674.5 458.5,673.6 461.8,674.5 465.0,675.4 469.4,672.3 473.8,690.0 478.2,691.4 480.9,686.5 483.6,681.7 488.0,687.4 490.0,682.0 493.3,687.7 496.6,693.3 500.4,692.4 504.2,691.5 508.6,672.0 513.5,673.6 518.4,675.2 523.3,674.6 528.2,674.0 533.2,673.4 538.1,672.8 540.9,668.6 543.6,664.4 546.8,664.7 550.0,664.9 554.5,674.2 557.2,675.2 560.0,676.2 564.4,674.5 568.8,672.8 573.1,671.1 577.5,669.4 581.9,670.1 586.2,670.8 590.6,671.5 593.9,670.3 597.2,669.2 600.0,670.8 602.7,672.4 607.0,678.8 609.8,678.2 612.5,677.6 615.8,665.6 618.5,668.9 621.3,672.1 625.6,679.6 628.9,676.8 632.2,674.0 636.6,671.8 641.0,669.6 643.7,670.1 646.4,670.6 649.1,668.9 651.9,667.2 655.2,668.8 658.5,670.4 661.8,670.9 665.0,671.4 668.3,671.3 671.6,671.3 674.3,675.0 677.0,678.8 679.8,678.2 682.5,677.6 686.9,667.7 690.2,673.2 693.5,678.7 696.2,678.7 699.0,678.8 703.3,671.2 706.0,670.5 708.8,669.7 713.1,670.0 717.5,670.3 720.2,668.7 723.0,667.1 725.8,667.2 728.5,667.2 732.8,660.7 736.1,660.2 739.4,660.5 742.1,665.6 744.9,670.7 749.2,671.8 753.6,682.7 756.3,682.8 759.0,683.0 763.5,672.0 768.4,680.5 773.2,884.3 778.0,881.7 782.8,674.7 785.4,674.1 788.0,673.4 793.0,677.9 795.8,679.7 798.5,681.4 803.6,881.3 808.4,878.7 813.8,679.8 816.5,677.1 819.2,674.0 822.0,677.8 824.7,681.6 827.4,680.0 830.0,678.3 835.0,677.3 840.0,676.3 844.9,676.4 849.7,676.5 853.3,675.5 857.0,674.7 860.6,674.2 865.0,667.8 869.5,669.2 872.1,674.3 874.8,679.4 878.9,679.1 883.0,678.8 887.2,678.5 891.3,678.2 895.6,672.9 900.0,667.7 902.8,672.4 905.5,677.0 909.5,676.4 913.5,675.8 917.5,675.7 921.5,675.6 926.3,884.3 931.1,881.7 935.9,673.0 938.8,674.2 941.6,675.5 947.0,883.3 951.8,880.7 956.6,678.4 960.5,678.0 964.4,678.7 968.3,679.5 972.2,680.3 977.1,682.9 982.0,685.5 987.0,688.0 991.9,690.6 995.7,689.5 999.5,688.4 1003.4,687.3 1007.2,686.1 1010.5,688.1 1013.8,690.0 1018.6,689.7 1023.4,689.3 1028.2,689.0 1033.0,688.6 1037.8,688.2 1040.5,686.6 1043.3,684.9 1048.0,685.5 1052.8,686.8 1056.2,689.1 1059.6,691.3 1063.0,693.5 1067.1,693.3 1071.2,693.2 1075.3,693.0 1079.4,692.7 1084.5,697.8 1089.3,898.3 1094.1,895.7 1099.0,699.2 1101.8,693.9 1104.6,688.5 1109.4,688.8 1114.4,695.6 1117.1,695.8 1119.8,695.9 1124.2,686.3 1127.5,691.2 1130.8,696.2 1135.5,697.3 1140.3,698.4 1145.0,699.6 1149.4,694.1 1152.7,695.2 1155.9,696.4 1158.7,699.1 1161.4,701.9 1164.7,701.6 1168.0,701.4 1170.2,689.5 1175.0,693.2 1178.3,693.5 1181.6,693.9 1185.4,696.1 1189.2,698.4 1193.1,700.6 1196.9,702.9 1201.6,703.7 1206.4,704.5 1211.1,705.2 1215.5,697.1 1218.8,696.1 1222.0,695.0 1226.4,704.7 1230.0,704.6 1233.7,704.5 1237.3,704.5 1241.7,712.0 1244.5,709.2 1247.2,706.4 1251.6,711.7 1254.8,710.6 1258.1,709.5 1260.8,710.5 1263.6,711.5 1266.9,699.4 1269.7,704.0 1272.4,708.6 1277.1,708.1 1281.7,707.6 1286.3,707.1 1291.0,706.6 1295.4,708.0 1299.8,709.4 1304.1,710.9 1308.5,712.3 1312.8,701.6 1315.4,702.0 1318.1,702.3 1322.9,914.3 1327.7,911.7 1332.5,707.8 1335.2,709.8 1338.0,711.9 1340.8,708.4 1343.5,704.9 1346.2,710.0 1348.9,715.1 1351.6,716.3 1354.3,717.6 1359.1,917.3 1363.9,914.7 1368.7,713.9 1372.8,714.6 1376.8,715.4 1380.9,716.1 1385.0,716.9 1387.8,714.5 1390.5,712.0 1394.3,710.1 1398.1,708.1 1403.0,714.5 1408.0,720.8 1410.8,722.1 1413.5,723.4 1420.0,926.3 1424.8,923.7 1429.9,715.8 1433.2,714.4 1436.4,713.0 1439.7,716.5 1443.0,720.0 1447.0,720.0 1451.0,719.3 1455.0,718.3 1458.3,720.6 1461.6,722.8 1465.4,718.5 1469.2,714.2 1473.2,714.0 1477.3,713.8 1481.3,713.6 1484.5,715.9 1487.8,718.2 1492.2,719.8 1496.6,721.3 1499.8,718.7 1503.0,716.1 1506.4,706.0 1509.7,708.8 1513.0,711.5 1515.1,714.7 1519.9,915.1 1524.7,912.5 1532.2,912.5 1532.2,936.2 1524.7,936.2 1519.9,938.8 1515.1,738.7 1513.0,735.5 1509.7,732.8 1506.4,730.0 1503.0,740.1 1499.8,742.7 1496.6,745.3 1492.2,743.8 1487.8,742.2 1484.5,739.9 1481.3,737.6 1477.3,737.8 1473.2,738.0 1469.2,738.2 1465.4,742.5 1461.6,746.8 1458.3,744.6 1455.0,742.3 1451.0,743.3 1447.0,744.0 1443.0,744.1 1439.7,740.6 1436.4,737.1 1433.2,738.5 1429.9,739.9 1424.8,946.7 1420.0,949.3 1413.5,747.6 1410.8,746.3 1408.0,745.0 1403.0,738.7 1398.1,732.4 1394.3,734.3 1390.5,736.3 1387.8,738.7 1385.0,741.1 1380.9,740.6 1376.8,740.2 1372.8,739.7 1368.7,739.3 1363.9,943.7 1359.1,946.3 1354.3,744.0 1351.6,743.0 1348.9,742.0 1346.2,737.1 1343.5,732.2 1340.8,736.0 1338.0,739.9 1335.2,738.2 1332.5,736.6 1327.7,941.7 1322.9,944.3 1318.1,733.3 1315.4,733.3 1312.8,733.3 1308.5,744.3 1304.1,743.2 1299.8,742.1 1295.4,741.0 1291.0,739.9 1286.3,740.7 1281.7,741.5 1277.1,742.4 1272.4,743.2 1269.7,738.8 1266.9,734.4 1263.6,745.9 1260.8,744.4 1258.1,743.0 1254.8,743.6 1251.6,744.1 1247.2,738.1 1244.5,740.4 1241.7,742.7 1237.3,734.4 1233.7,733.9 1230.0,733.4 1226.4,732.8 1222.0,722.4 1218.8,723.4 1215.5,724.4 1211.1,732.3 1206.4,731.4 1201.6,730.5 1196.9,729.6 1193.1,727.3 1189.2,724.9 1185.4,722.5 1181.6,720.1 1178.3,719.6 1175.0,719.1 1170.2,715.1 1168.0,726.8 1164.7,726.9 1161.4,727.0 1158.7,724.4 1155.9,721.8 1152.7,720.9 1149.4,719.9 1145.0,725.6 1140.3,724.8 1135.5,723.9 1130.8,723.0 1127.5,718.3 1124.2,713.5 1119.8,723.5 1117.1,723.5 1114.4,723.6 1109.4,717.1 1104.6,717.5 1101.8,723.7 1099.0,729.8 1094.1,931.7 1089.3,934.3 1084.5,732.5 1079.4,728.9 1075.3,730.1 1071.2,731.1 1067.1,732.2 1063.0,733.2 1059.6,731.7 1056.2,730.2 1052.8,728.7 1048.0,728.1 1043.3,727.5 1040.5,729.1 1037.8,730.7 1033.0,731.0 1028.2,731.2 1023.4,731.5 1018.6,731.7 1013.8,732.0 1010.5,730.0 1007.2,728.0 1003.4,729.0 999.5,730.0 995.7,731.1 991.9,732.1 987.0,731.1 982.0,730.1 977.1,729.1 972.2,728.2 968.3,728.6 964.4,729.0 960.5,729.4 956.6,729.9 951.8,933.7 947.0,936.3 941.6,727.3 938.8,726.1 935.9,725.0 931.1,936.7 926.3,939.3 921.5,727.9 917.5,728.1 913.5,728.3 909.5,727.7 905.5,727.0 902.8,721.4 900.0,715.8 895.6,720.4 891.3,725.1 887.2,724.8 883.0,724.5 878.9,724.3 874.8,724.0 872.1,718.5 869.5,713.1 865.0,711.1 860.6,716.8 857.0,716.8 853.3,716.8 849.7,717.0 844.9,716.7 840.0,716.4 835.0,717.3 830.0,718.1 827.4,719.7 824.7,721.2 822.0,717.3 819.2,713.4 816.5,716.7 813.8,719.5 808.4,918.7 803.6,921.3 798.5,722.4 795.8,720.9 793.0,719.4 788.0,714.8 785.4,715.4 782.8,715.9 778.0,919.7 773.2,922.3 768.4,721.3 763.5,712.6 759.0,724.2 756.3,724.5 753.6,724.8 749.2,714.6 744.9,714.2 742.1,709.5 739.4,704.8 736.1,705.1 732.8,705.2 728.5,711.2 725.8,710.9 723.0,710.5 720.2,711.8 717.5,713.1 713.1,712.3 708.8,711.4 706.0,711.9 703.3,712.3 699.0,719.4 696.2,719.0 693.5,718.6 690.2,712.8 686.9,706.9 682.5,716.4 679.8,716.7 677.0,717.1 674.3,713.1 671.6,709.1 668.3,708.8 665.0,708.6 661.8,707.8 658.5,707.0 655.2,705.1 651.9,703.2 649.1,704.6 646.4,706.1 643.7,705.3 641.0,704.6 636.6,706.4 632.2,708.2 628.9,710.7 625.6,713.2 621.3,705.3 618.5,701.8 615.8,698.3 612.5,710.2 609.8,710.6 607.0,711.1 602.7,704.4 600.0,702.6 597.2,700.9 593.9,701.9 590.6,702.8 586.2,702.0 581.9,701.1 577.5,700.2 573.1,701.6 568.8,703.1 564.4,704.5 560.0,706.0 557.2,704.8 554.5,703.7 550.0,694.2 546.8,693.8 543.6,693.3 540.9,696.6 538.1,699.9 533.2,698.9 528.2,698.0 523.3,697.0 518.4,696.0 513.5,692.8 508.6,689.7 504.2,709.1 500.4,709.9 496.6,710.7 493.3,705.0 490.0,699.2 488.0,704.6 483.6,698.8 480.9,703.5 478.2,708.3 473.8,706.9 469.4,689.1 465.0,692.1 461.8,691.0 458.5,690.2 455.5,691.3 452.5,692.3 447.7,886.7 442.9,889.3 438.1,697.7 434.4,701.3 430.0,698.4 425.6,696.6 421.3,694.8 418.6,690.6 415.8,686.4 412.5,700.7 408.1,699.7 404.9,700.4 401.6,701.1 398.9,702.8 396.1,704.5 393.4,701.9 390.7,699.2 386.3,697.2 382.0,709.4 379.2,708.9 376.4,708.5 372.0,695.0 367.7,695.6 363.3,707.8 360.6,708.4 357.8,709.0 354.5,700.3 350.2,700.5 346.9,709.4 343.6,706.7 340.3,704.1 336.0,693.3 333.2,695.1 330.5,696.8 327.2,708.9 323.9,710.1 320.6,711.3 317.3,700.1 314.6,699.5 311.9,698.9 307.5,697.6 303.2,696.3 298.8,694.9 293.9,695.8 288.9,696.7 284.0,691.5 279.1,686.3 275.8,700.5 272.5,701.6 269.2,702.7 264.9,696.2 260.4,695.9 255.9,695.6 251.4,695.4 246.8,695.1 242.3,694.8 237.8,694.5 233.3,694.3 228.8,694.0 225.0,695.6 221.1,697.1 217.2,698.7 213.4,700.2 210.4,701.2 207.3,702.1 202.5,692.9 199.8,696.9 197.0,700.8 192.1,701.1 187.2,701.4 182.8,711.8 178.4,711.2 175.7,713.6 173.0,716.0 170.2,717.0 167.5,718.1 163.1,706.5 160.3,706.4 157.5,706.2 147.0,706.2" fill="#e5117c" fill-opacity="0.5"/>
<polygon points="147.0,706.2 157.5,706.2 160.3,706.4 163.1,706.5 167.5,718.1 170.2,717.0 173.0,716.0 175.7,713.6 178.4,711.2 182.8,711.8 187.2,701.4 192.1,701.1 197.0,700.8 199.8,696.9 202.5,692.9 207.3,702.1 210.4,701.2 213.4,700.2 217.2,698.7 221.1,697.1 225.0,695.6 228.8,694.0 233.3,694.3 237.8,694.5 242.3,694.8 246.8,695.1 251.4,695.4 255.9,695.6 260.4,695.9 264.9,696.2 269.2,702.7 272.5,701.6 275.8,700.5 279.1,686.3 284.0,691.5 288.9,696.7 293.9,695.8 298.8,694.9 303.2,696.3 307.5,697.6 311.9,698.9 314.6,699.5 317.3,700.1 320.6,711.3 323.9,710.1 327.2,708.9 330.5,696.8 333.2,695.1 336.0,693.3 340.3,704.1 343.6,706.7 346.9,709.4 350.2,700.5 354.5,700.3 357.8,709.0 360.6,708.4 363.3,707.8 367.7,695.6 372.0,695.0 376.4,708.5 379.2,708.9 382.0,709.4 386.3,697.2 390.7,699.2 393.4,701.9 396.1,704.5 398.9,702.8 401.6,701.1 404.9,700.4 408.1,699.7 412.5,700.7 415.8,686.4 418.6,690.6 421.3,694.8 425.6,696.6 430.0,698.4 434.4,701.3 438.1,697.7 442.9,889.3 447.7,886.7 452.5,692.3 455.5,691.3 458.5,690.2 461.8,691.0 465.0,692.1 469.4,689.1 473.8,706.9 478.2,708.3 480.9,703.5 483.6,698.8 488.0,704.6 490.0,699.2 493.3,705.0 496.6,710.7 500.4,709.9 504.2,709.1 508.6,689.7 513.5,692.8 518.4,696.0 523.3,697.0 528.2,698.0 533.2,698.9 538.1,699.9 540.9,696.6 543.6,693.3 546.8,693.8 550.0,694.2 554.5,703.7 557.2,704.8 560.0,706.0 564.4,704.5 568.8,703.1 573.1,701.6 577.5,700.2 581.9,701.1 586.2,702.0 590.6,702.8 593.9,701.9 597.2,700.9 600.0,702.6 602.7,704.4 607.0,711.1 609.8,710.6 612.5,710.2 615.8,698.3 618.5,701.8 621.3,705.3 625.6,713.2 628.9,710.7 632.2,708.2 636.6,706.4 641.0,704.6 643.7,705.3 646.4,706.1 649.1,704.6 651.9,703.2 655.2,705.1 658.5,707.0 661.8,707.8 665.0,708.6 668.3,708.8 671.6,709.1 674.3,713.1 677.0,717.1 679.8,716.7 682.5,716.4 686.9,706.9 690.2,712.8 693.5,718.6 696.2,719.0 699.0,719.4 703.3,712.3 706.0,711.9 708.8,711.4 713.1,712.3 717.5,713.1 720.2,711.8 723.0,710.5 725.8,710.9 728.5,711.2 732.8,705.2 736.1,705.1 739.4,704.8 742.1,709.5 744.9,714.2 749.2,714.6 753.6,724.8 756.3,724.5 759.0,724.2 763.5,712.6 768.4,721.3 773.2,922.3 778.0,919.7 782.8,715.9 785.4,715.4 788.0,714.8 793.0,719.4 795.8,720.9 798.5,722.4 803.6,921.3 808.4,918.7 813.8,719.5 816.5,716.7 819.2,713.4 822.0,717.3 824.7,721.2 827.4,719.7 830.0,718.1 835.0,717.3 840.0,716.4 844.9,716.7 849.7,717.0 853.3,716.8 857.0,716.8 860.6,716.8 865.0,711.1 869.5,713.1 872.1,718.5 874.8,724.0 878.9,724.3 883.0,724.5 887.2,724.8 891.3,725.1 895.6,720.4 900.0,715.8 902.8,721.4 905.5,727.0 909.5,727.7 913.5,728.3 917.5,728.1 921.5,727.9 926.3,939.3 931.1,936.7 935.9,725.0 938.8,726.1 941.6,727.3 947.0,936.3 951.8,933.7 956.6,729.9 960.5,729.4 964.4,729.0 968.3,728.6 972.2,728.2 977.1,729.1 982.0,730.1 987.0,731.1 991.9,732.1 995.7,731.1 999.5,730.0 1003.4,729.0 1007.2,728.0 1010.5,730.0 1013.8,732.0 1018.6,731.7 1023.4,731.5 1028.2,731.2 1033.0,731.0 1037.8,730.7 1040.5,729.1 1043.3,727.5 1048.0,728.1 1052.8,728.7 1056.2,730.2 1059.6,731.7 1063.0,733.2 1067.1,732.2 1071.2,731.1 1075.3,730.1 1079.4,728.9 1084.5,732.5 1089.3,934.3 1094.1,931.7 1099.0,729.8 1101.8,723.7 1104.6,717.5 1109.4,717.1 1114.4,723.6 1117.1,723.5 1119.8,723.5 1124.2,713.5 1127.5,718.3 1130.8,723.0 1135.5,723.9 1140.3,724.8 1145.0,725.6 1149.4,719.9 1152.7,720.9 1155.9,721.8 1158.7,724.4 1161.4,727.0 1164.7,726.9 1168.0,726.8 1170.2,715.1 1175.0,719.1 1178.3,719.6 1181.6,720.1 1185.4,722.5 1189.2,724.9 1193.1,727.3 1196.9,729.6 1201.6,730.5 1206.4,731.4 1211.1,732.3 1215.5,724.4 1218.8,723.4 1222.0,722.4 1226.4,732.8 1230.0,733.4 1233.7,733.9 1237.3,734.4 1241.7,742.7 1244.5,740.4 1247.2,738.1 1251.6,744.1 1254.8,743.6 1258.1,743.0 1260.8,744.4 1263.6,745.9 1266.9,734.4 1269.7,738.8 1272.4,743.2 1277.1,742.4 1281.7,741.5 1286.3,740.7 1291.0,739.9 1295.4,741.0 1299.8,742.1 1304.1,743.2 1308.5,744.3 1312.8,733.3 1315.4,733.3 1318.1,733.3 1322.9,944.3 1327.7,941.7 1332.5,736.6 1335.2,738.2 1338.0,739.9 1340.8,736.0 1343.5,732.2 1346.2,737.1 1348.9,742.0 1351.6,743.0 1354.3,744.0 1359.1,946.3 1363.9,943.7 1368.7,739.3 1372.8,739.7 1376.8,740.2 1380.9,740.6 1385.0,741.1 1387.8,738.7 1390.5,736.3 1394.3,734.3 1398.1,732.4 1403.0,738.7 1408.0,745.0 1410.8,746.3 1413.5,747.6 1420.0,949.3 1424.8,946.7 1429.9,739.9 1433.2,738.5 1436.4,737.1 1439.7,740.6 1443.0,744.1 1447.0,744.0 1451.0,743.3 1455.0,742.3 1458.3,744.6 1461.6,746.8 1465.4,742.5 1469.2,738.2 1473.2,738.0 1477.3,737.8 1481.3,737.6 1484.5,739.9 1487.8,742.2 1492.2,743.8 1496.6,745.3 1499.8,742.7 1503.0,740.1 1506.4,730.0 1509.7,732.8 1513.0,735.5 1515.1,738.7 1519.9,938.8 1524.7,936.2 1532.2,936.2 1532.2,952.7 1524.7,952.7 1519.9,952.7 1515.1,752.0 1505.3,745.3 1490.0,760.0 1481.3,754.0 1470.0,751.0 1461.6,760.0 1455.0,758.7 1429.6,758.7 1424.8,961.0 1420.0,961.0 1413.5,755.0 1404.0,752.0 1396.0,748.0 1385.0,752.0 1368.7,752.6 1363.9,952.0 1359.1,952.0 1354.3,755.6 1350.0,752.0 1343.5,746.4 1332.5,755.0 1327.7,952.0 1322.9,952.0 1318.1,950.0 1313.9,945.7 1306.1,956.1 1282.6,952.2 1272.0,952.0 1267.0,948.3 1256.5,957.4 1246.1,958.7 1242.2,761.7 1235.7,757.8 1225.2,756.5 1218.7,746.1 1209.6,755.2 1193.9,753.9 1178.3,747.4 1169.1,743.5 1161.3,755.2 1152.0,750.0 1140.0,755.0 1131.5,751.0 1124.0,744.5 1117.0,751.0 1110.0,747.5 1098.9,749.0 1094.1,964.0 1089.3,964.0 1084.5,760.0 1079.0,760.0 1050.0,758.0 1029.0,760.0 1008.0,755.6 992.6,763.0 962.0,760.0 956.6,760.0 951.8,963.0 947.0,963.0 942.2,750.0 935.9,750.0 931.1,963.0 926.3,963.0 921.5,748.0 913.0,747.5 905.5,745.0 900.0,732.2 891.3,741.0 874.8,742.0 867.2,737.7 860.0,737.0 847.5,741.0 830.0,741.0 818.0,734.0 813.4,734.0 808.4,946.0 803.6,946.0 798.8,741.0 792.0,740.0 783.0,737.4 778.0,941.0 773.2,941.0 768.4,943.0 762.6,941.7 757.4,948.3 741.7,950.9 735.2,941.7 726.0,947.0 715.7,950.9 701.3,952.2 693.5,962.6 687.0,950.9 679.0,960.0 670.0,962.6 657.0,961.3 651.8,944.4 644.0,945.7 636.0,934.0 625.7,940.5 613.9,928.7 606.0,939.0 599.6,937.8 595.7,735.7 590.4,738.3 578.7,733.0 565.6,735.7 560.4,733.0 550.0,725.2 543.5,722.6 534.4,730.4 526.5,730.4 516.1,729.1 505.7,723.9 497.8,743.5 492.5,736.0 490.0,738.3 482.2,739.6 479.6,763.0 474.4,757.8 467.8,742.2 456.1,744.8 452.5,745.0 447.7,943.0 442.9,943.0 438.1,941.0 437.8,941.7 431.3,948.3 415.7,931.3 409.0,943.0 385.7,949.6 377.8,961.3 370.5,948.3 364.0,948.3 357.4,958.7 350.9,950.9 344.4,960.0 335.2,940.4 330.0,939.0 320.9,953.5 314.4,943.0 300.0,939.0 293.5,933.9 285.7,931.3 277.8,923.5 271.3,939.0 259.6,937.2 254.4,940.4 246.5,937.8 238.7,936.5 233.5,919.6 228.3,919.6 224.0,720.5 218.1,722.6 212.0,720.5 207.9,709.0 202.8,708.2 197.7,715.0 192.6,715.5 187.6,715.0 182.5,718.0 177.4,725.0 172.3,734.0 167.0,735.0 162.0,728.0 157.0,721.4 147.0,721.4" fill="#404cf5" fill-opacity="0.5"/>
<polygon points="147.0,721.4 157.0,721.4 162.0,728.0 167.0,735.0 172.3,734.0 177.4,725.0 182.5,718.0 187.6,715.0 192.6,715.5 197.7,715.0 202.8,708.2 207.9,709.0 212.0,720.5 218.1,722.6 224.0,720.5 228.3,919.6 233.5,919.6 238.7,936.5 246.5,937.8 254.4,940.4 259.6,937.2 271.3,939.0 277.8,923.5 285.7,931.3 293.5,933.9 300.0,939.0 314.4,943.0 320.9,953.5 330.0,939.0 335.2,940.4 344.4,960.0 350.9,950.9 357.4,958.7 364.0,948.3 370.5,948.3 377.8,961.3 385.7,949.6 409.0,943.0 415.7,931.3 431.3,948.3 437.8,941.7 438.1,941.0 442.9,943.0 447.7,943.0 452.5,745.0 456.1,744.8 467.8,742.2 474.4,757.8 479.6,763.0 482.2,739.6 490.0,738.3 492.5,736.0 497.8,743.5 505.7,723.9 516.1,729.1 526.5,730.4 534.4,730.4 543.5,722.6 550.0,725.2 560.4,733.0 565.6,735.7 578.7,733.0 590.4,738.3 595.7,735.7 599.6,937.8 606.0,939.0 613.9,928.7 625.7,940.5 636.0,934.0 644.0,945.7 651.8,944.4 657.0,961.3 670.0,962.6 679.0,960.0 687.0,950.9 693.5,962.6 701.3,952.2 715.7,950.9 726.0,947.0 735.2,941.7 741.7,950.9 757.4,948.3 762.6,941.7 768.4,943.0 773.2,941.0 778.0,941.0 783.0,737.4 792.0,740.0 798.8,741.0 803.6,946.0 808.4,946.0 813.4,734.0 818.0,734.0 830.0,741.0 847.5,741.0 860.0,737.0 867.2,737.7 874.8,742.0 891.3,741.0 900.0,732.2 905.5,745.0 913.0,747.5 921.5,748.0 926.3,963.0 931.1,963.0 935.9,750.0 942.2,750.0 947.0,963.0 951.8,963.0 956.6,760.0 962.0,760.0 992.6,763.0 1008.0,755.6 1029.0,760.0 1050.0,758.0 1079.0,760.0 1084.5,760.0 1089.3,964.0 1094.1,964.0 1098.9,749.0 1110.0,747.5 1117.0,751.0 1124.0,744.5 1131.5,751.0 1140.0,755.0 1152.0,750.0 1161.3,755.2 1169.1,743.5 1178.3,747.4 1193.9,753.9 1209.6,755.2 1218.7,746.1 1225.2,756.5 1235.7,757.8 1242.2,761.7 1246.1,958.7 1256.5,957.4 1267.0,948.3 1272.0,952.0 1282.6,952.2 1306.1,956.1 1313.9,945.7 1318.1,950.0 1322.9,952.0 1327.7,952.0 1332.5,755.0 1343.5,746.4 1350.0,752.0 1354.3,755.6 1359.1,952.0 1363.9,952.0 1368.7,752.6 1385.0,752.0 1396.0,748.0 1404.0,752.0 1413.5,755.0 1420.0,961.0 1424.8,961.0 1429.6,758.7 1455.0,758.7 1461.6,760.0 1470.0,751.0 1481.3,754.0 1490.0,760.0 1505.3,745.3 1515.1,752.0 1519.9,952.7 1524.7,952.7 1532.2,952.7 1532.2,966.3 1524.7,966.3 1519.9,966.3 1515.1,766.0 1490.0,766.3 1459.3,766.3 1457.0,971.7 1433.5,971.7 1424.8,971.0 1420.0,971.0 1413.5,962.0 1408.0,760.0 1394.0,760.0 1392.0,959.6 1368.7,959.6 1363.9,960.0 1359.1,960.0 1354.3,958.0 1334.0,958.0 1327.7,962.0 1322.9,962.0 1318.1,960.0 1303.5,961.3 1290.0,965.0 1277.4,963.9 1267.0,971.0 1256.5,970.4 1246.0,969.0 1240.0,766.0 1234.4,765.7 1204.3,761.7 1165.2,763.0 1133.9,760.4 1127.4,757.8 1120.9,966.5 1100.0,970.4 1094.1,972.0 1089.3,972.0 1084.5,766.3 1029.0,766.3 985.0,764.8 983.0,972.0 962.0,972.0 951.8,972.0 947.0,972.0 937.0,972.0 931.1,971.0 926.3,971.0 921.5,758.0 913.0,756.0 905.5,752.0 900.0,746.4 891.3,748.0 874.8,752.0 860.0,750.0 842.6,749.6 836.5,956.5 818.0,956.5 808.4,957.0 803.6,957.0 798.5,958.0 783.5,961.3 778.0,957.0 773.2,957.0 768.4,956.1 735.2,957.4 728.7,965.2 687.0,966.5 663.5,966.5 655.7,974.4 650.0,958.7 641.3,958.7 635.0,948.0 625.7,950.9 611.3,945.7 594.3,944.4 592.0,743.5 590.4,743.5 578.7,740.9 564.4,743.5 557.8,738.3 543.5,735.7 534.4,747.4 526.5,748.7 521.3,761.7 497.8,765.7 482.2,768.3 479.6,967.8 473.0,965.2 467.8,948.3 461.3,950.9 452.5,949.6 447.7,950.0 442.9,950.0 438.1,954.8 422.0,951.0 415.7,952.2 409.0,966.5 379.6,964.0 361.3,962.6 352.0,965.2 336.5,965.2 330.0,954.8 317.0,957.4 308.0,948.3 301.3,949.6 293.5,943.0 260.0,942.0 243.9,944.4 237.4,941.7 228.3,926.0 223.8,728.0 219.5,728.7 214.0,733.5 209.8,731.5 204.2,739.1 182.6,738.3 175.0,743.5 165.6,744.8 157.8,734.3 147.0,734.3" fill="#303030" fill-opacity="0.5"/>
<polygon points="147.0,734.3 157.8,734.3 165.6,744.8 175.0,743.5 182.6,738.3 204.2,739.1 209.8,731.5 214.0,733.5 219.5,728.7 223.8,728.0 228.3,926.0 237.4,941.7 243.9,944.4 260.0,942.0 293.5,943.0 301.3,949.6 308.0,948.3 317.0,957.4 330.0,954.8 336.5,965.2 352.0,965.2 361.3,962.6 379.6,964.0 409.0,966.5 415.7,952.2 422.0,951.0 438.1,954.8 442.9,950.0 447.7,950.0 452.5,949.6 461.3,950.9 467.8,948.3 473.0,965.2 479.6,967.8 482.2,768.3 497.8,765.7 521.3,761.7 526.5,748.7 534.4,747.4 543.5,735.7 557.8,738.3 564.4,743.5 578.7,740.9 590.4,743.5 592.0,743.5 594.3,944.4 611.3,945.7 625.7,950.9 635.0,948.0 641.3,958.7 650.0,958.7 655.7,974.4 663.5,966.5 687.0,966.5 728.7,965.2 735.2,957.4 768.4,956.1 773.2,957.0 778.0,957.0 783.5,961.3 798.5,958.0 803.6,957.0 808.4,957.0 818.0,956.5 836.5,956.5 842.6,749.6 860.0,750.0 874.8,752.0 891.3,748.0 900.0,746.4 905.5,752.0 913.0,756.0 921.5,758.0 926.3,971.0 931.1,971.0 937.0,972.0 947.0,972.0 951.8,972.0 962.0,972.0 983.0,972.0 985.0,764.8 1029.0,766.3 1084.5,766.3 1089.3,972.0 1094.1,972.0 1100.0,970.4 1120.9,966.5 1127.4,757.8 1133.9,760.4 1165.2,763.0 1204.3,761.7 1234.4,765.7 1240.0,766.0 1246.0,969.0 1256.5,970.4 1267.0,971.0 1277.4,963.9 1290.0,965.0 1303.5,961.3 1318.1,960.0 1322.9,962.0 1327.7,962.0 1334.0,958.0 1354.3,958.0 1359.1,960.0 1363.9,960.0 1368.7,959.6 1392.0,959.6 1394.0,760.0 1408.0,760.0 1413.5,962.0 1420.0,971.0 1424.8,971.0 1433.5,971.7 1457.0,971.7 1459.3,766.3 1490.0,766.3 1515.1,766.0 1519.9,966.3 1524.7,966.3 1532.2,966.3 1532.2,984.7 1532.2,984.7 147.0,984.7 147.0,984.7" fill="#00cc96" fill-opacity="0.5"/>
<line x1="157.0" y1="980.7" x2="1522.2" y2="980.7" stroke="#ffffff" stroke-width="2"/>
<polyline points="157.8,734.3 165.6,744.8 175.0,743.5 182.6,738.3 204.2,739.1 209.8,731.5 214.0,733.5 219.5,728.7 223.8,728.0 228.3,926.0 237.4,941.7 243.9,944.4 260.0,942.0 293.5,943.0 301.3,949.6 308.0,948.3 317.0,957.4 330.0,954.8 336.5,965.2 352.0,965.2 361.3,962.6 379.6,964.0 409.0,966.5 415.7,952.2 422.0,951.0 438.1,954.8 442.9,950.0 447.7,950.0 452.5,949.6 461.3,950.9 467.8,948.3 473.0,965.2 479.6,967.8 482.2,768.3 497.8,765.7 521.3,761.7 526.5,748.7 534.4,747.4 543.5,735.7 557.8,738.3 564.4,743.5 578.7,740.9 590.4,743.5 592.0,743.5 594.3,944.4 611.3,945.7 625.7,950.9 635.0,948.0 641.3,958.7 650.0,958.7 655.7,974.4 663.5,966.5 687.0,966.5 728.7,965.2 735.2,957.4 768.4,956.1 773.2,957.0 778.0,957.0 783.5,961.3 798.5,958.0 803.6,957.0 808.4,957.0 818.0,956.5 836.5,956.5 842.6,749.6 860.0,750.0 874.8,752.0 891.3,748.0 900.0,746.4 905.5,752.0 913.0,756.0 921.5,758.0 926.3,971.0 931.1,971.0 937.0,972.0 947.0,972.0 951.8,972.0 962.0,972.0 983.0,972.0 985.0,764.8 1029.0,766.3 1084.5,766.3 1089.3,972.0 1094.1,972.0 1100.0,970.4 1120.9,966.5 1127.4,757.8 1133.9,760.4 1165.2,763.0 1204.3,761.7 1234.4,765.7 1240.0,766.0 1246.0,969.0 1256.5,970.4 1267.0,971.0 1277.4,963.9 1290.0,965.0 1303.5,961.3 1318.1,960.0 1322.9,962.0 1327.7,962.0 1334.0,958.0 1354.3,958.0 1359.1,960.0 1363.9,960.0 1368.7,959.6 1392.0,959.6 1394.0,760.0 1408.0,760.0 1413.5,962.0 1420.0,971.0 1424.8,971.0 1433.5,971.7 1457.0,971.7 1459.3,766.3 1490.0,766.3 1515.1,766.0 1519.9,966.3 1524.7,966.3" fill="none" stroke="#00cc96" stroke-width="7.2" stroke-linejoin="miter" stroke-miterlimit="2"/>
<polyline points="157.0,721.4 162.0,728.0 167.0,735.0 172.3,734.0 177.4,725.0 182.5,718.0 187.6,715.0 192.6,715.5 197.7,715.0 202.8,708.2 207.9,709.0 212.0,720.5 218.1,722.6 224.0,720.5 228.3,919.6 233.5,919.6 238.7,936.5 246.5,937.8 254.4,940.4 259.6,937.2 271.3,939.0 277.8,923.5 285.7,931.3 293.5,933.9 300.0,939.0 314.4,943.0 320.9,953.5 330.0,939.0 335.2,940.4 344.4,960.0 350.9,950.9 357.4,958.7 364.0,948.3 370.5,948.3 377.8,961.3 385.7,949.6 409.0,943.0 415.7,931.3 431.3,948.3 437.8,941.7 438.1,941.0 442.9,943.0 447.7,943.0 452.5,745.0 456.1,744.8 467.8,742.2 474.4,757.8 479.6,763.0 482.2,739.6 490.0,738.3 492.5,736.0 497.8,743.5 505.7,723.9 516.1,729.1 526.5,730.4 534.4,730.4 543.5,722.6 550.0,725.2 560.4,733.0 565.6,735.7 578.7,733.0 590.4,738.3 595.7,735.7 599.6,937.8 606.0,939.0 613.9,928.7 625.7,940.5 636.0,934.0 644.0,945.7 651.8,944.4 657.0,961.3 670.0,962.6 679.0,960.0 687.0,950.9 693.5,962.6 701.3,952.2 715.7,950.9 726.0,947.0 735.2,941.7 741.7,950.9 757.4,948.3 762.6,941.7 768.4,943.0 773.2,941.0 778.0,941.0 783.0,737.4 792.0,740.0 798.8,741.0 803.6,946.0 808.4,946.0 813.4,734.0 818.0,734.0 830.0,741.0 847.5,741.0 860.0,737.0 867.2,737.7 874.8,742.0 891.3,741.0 900.0,732.2 905.5,745.0 913.0,747.5 921.5,748.0 926.3,963.0 931.1,963.0 935.9,750.0 942.2,750.0 947.0,963.0 951.8,963.0 956.6,760.0 962.0,760.0 992.6,763.0 1008.0,755.6 1029.0,760.0 1050.0,758.0 1079.0,760.0 1084.5,760.0 1089.3,964.0 1094.1,964.0 1098.9,749.0 1110.0,747.5 1117.0,751.0 1124.0,744.5 1131.5,751.0 1140.0,755.0 1152.0,750.0 1161.3,755.2 1169.1,743.5 1178.3,747.4 1193.9,753.9 1209.6,755.2 1218.7,746.1 1225.2,756.5 1235.7,757.8 1242.2,761.7 1246.1,958.7 1256.5,957.4 1267.0,948.3 1272.0,952.0 1282.6,952.2 1306.1,956.1 1313.9,945.7 1318.1,950.0 1322.9,952.0 1327.7,952.0 1332.5,755.0 1343.5,746.4 1350.0,752.0 1354.3,755.6 1359.1,952.0 1363.9,952.0 1368.7,752.6 1385.0,752.0 1396.0,748.0 1404.0,752.0 1413.5,755.0 1420.0,961.0 1424.8,961.0 1429.6,758.7 1455.0,758.7 1461.6,760.0 1470.0,751.0 1481.3,754.0 1490.0,760.0 1505.3,745.3 1515.1,752.0 1519.9,952.7 1524.7,952.7" fill="none" stroke="#303030" stroke-width="7.2" stroke-linejoin="miter" stroke-miterlimit="2"/>
<polyline points="157.5,706.2 160.3,706.4 163.1,706.5 167.5,718.1 170.2,717.0 173.0,716.0 175.7,713.6 178.4,711.2 182.8,711.8 187.2,701.4 192.1,701.1 197.0,700.8 199.8,696.9 202.5,692.9 207.3,702.1 210.4,701.2 213.4,700.2 217.2,698.7 221.1,697.1 225.0,695.6 228.8,694.0 233.3,694.3 237.8,694.5 242.3,694.8 246.8,695.1 251.4,695.4 255.9,695.6 260.4,695.9 264.9,696.2 269.2,702.7 272.5,701.6 275.8,700.5 279.1,686.3 284.0,691.5 288.9,696.7 293.9,695.8 298.8,694.9 303.2,696.3 307.5,697.6 311.9,698.9 314.6,699.5 317.3,700.1 320.6,711.3 323.9,710.1 327.2,708.9 330.5,696.8 333.2,695.1 336.0,693.3 340.3,704.1 343.6,706.7 346.9,709.4 350.2,700.5 354.5,700.3 357.8,709.0 360.6,708.4 363.3,707.8 367.7,695.6 372.0,695.0 376.4,708.5 379.2,708.9 382.0,709.4 386.3,697.2 390.7,699.2 393.4,701.9 396.1,704.5 398.9,702.8 401.6,701.1 404.9,700.4 408.1,699.7 412.5,700.7 415.8,686.4 418.6,690.6 421.3,694.8 425.6,696.6 430.0,698.4 434.4,701.3 438.1,697.7 442.9,889.3 447.7,886.7 452.5,692.3 455.5,691.3 458.5,690.2 461.8,691.0 465.0,692.1 469.4,689.1 473.8,706.9 478.2,708.3 480.9,703.5 483.6,698.8 488.0,704.6 490.0,699.2 493.3,705.0 496.6,710.7 500.4,709.9 504.2,709.1 508.6,689.7 513.5,692.8 518.4,696.0 523.3,697.0 528.2,698.0 533.2,698.9 538.1,699.9 540.9,696.6 543.6,693.3 546.8,693.8 550.0,694.2 554.5,703.7 557.2,704.8 560.0,706.0 564.4,704.5 568.8,703.1 573.1,701.6 577.5,700.2 581.9,701.1 586.2,702.0 590.6,702.8 593.9,701.9 597.2,700.9 600.0,702.6 602.7,704.4 607.0,711.1 609.8,710.6 612.5,710.2 615.8,698.3 618.5,701.8 621.3,705.3 625.6,713.2 628.9,710.7 632.2,708.2 636.6,706.4 641.0,704.6 643.7,705.3 646.4,706.1 649.1,704.6 651.9,703.2 655.2,705.1 658.5,707.0 661.8,707.8 665.0,708.6 668.3,708.8 671.6,709.1 674.3,713.1 677.0,717.1 679.8,716.7 682.5,716.4 686.9,706.9 690.2,712.8 693.5,718.6 696.2,719.0 699.0,719.4 703.3,712.3 706.0,711.9 708.8,711.4 713.1,712.3 717.5,713.1 720.2,711.8 723.0,710.5 725.8,710.9 728.5,711.2 732.8,705.2 736.1,705.1 739.4,704.8 742.1,709.5 744.9,714.2 749.2,714.6 753.6,724.8 756.3,724.5 759.0,724.2 763.5,712.6 768.4,721.3 773.2,922.3 778.0,919.7 782.8,715.9 785.4,715.4 788.0,714.8 793.0,719.4 795.8,720.9 798.5,722.4 803.6,921.3 808.4,918.7 813.8,719.5 816.5,716.7 819.2,713.4 822.0,717.3 824.7,721.2 827.4,719.7 830.0,718.1 835.0,717.3 840.0,716.4 844.9,716.7 849.7,717.0 853.3,716.8 857.0,716.8 860.6,716.8 865.0,711.1 869.5,713.1 872.1,718.5 874.8,724.0 878.9,724.3 883.0,724.5 887.2,724.8 891.3,725.1 895.6,720.4 900.0,715.8 902.8,721.4 905.5,727.0 909.5,727.7 913.5,728.3 917.5,728.1 921.5,727.9 926.3,939.3 931.1,936.7 935.9,725.0 938.8,726.1 941.6,727.3 947.0,936.3 951.8,933.7 956.6,729.9 960.5,729.4 964.4,729.0 968.3,728.6 972.2,728.2 977.1,729.1 982.0,730.1 987.0,731.1 991.9,732.1 995.7,731.1 999.5,730.0 1003.4,729.0 1007.2,728.0 1010.5,730.0 1013.8,732.0 1018.6,731.7 1023.4,731.5 1028.2,731.2 1033.0,731.0 1037.8,730.7 1040.5,729.1 1043.3,727.5 1048.0,728.1 1052.8,728.7 1056.2,730.2 1059.6,731.7 1063.0,733.2 1067.1,732.2 1071.2,731.1 1075.3,730.1 1079.4,728.9 1084.5,732.5 1089.3,934.3 1094.1,931.7 1099.0,729.8 1101.8,723.7 1104.6,717.5 1109.4,717.1 1114.4,723.6 1117.1,723.5 1119.8,723.5 1124.2,713.5 1127.5,718.3 1130.8,723.0 1135.5,723.9 1140.3,724.8 1145.0,725.6 1149.4,719.9 1152.7,720.9 1155.9,721.8 1158.7,724.4 1161.4,727.0 1164.7,726.9 1168.0,726.8 1170.2,715.1 1175.0,719.1 1178.3,719.6 1181.6,720.1 1185.4,722.5 1189.2,724.9 1193.1,727.3 1196.9,729.6 1201.6,730.5 1206.4,731.4 1211.1,732.3 1215.5,724.4 1218.8,723.4 1222.0,722.4 1226.4,732.8 1230.0,733.4 1233.7,733.9 1237.3,734.4 1241.7,742.7 1244.5,740.4 1247.2,738.1 1251.6,744.1 1254.8,743.6 1258.1,743.0 1260.8,744.4 1263.6,745.9 1266.9,734.4 1269.7,738.8 1272.4,743.2 1277.1,742.4 1281.7,741.5 1286.3,740.7 1291.0,739.9 1295.4,741.0 1299.8,742.1 1304.1,743.2 1308.5,744.3 1312.8,733.3 1315.4,733.3 1318.1,733.3 1322.9,944.3 1327.7,941.7 1332.5,736.6 1335.2,738.2 1338.0,739.9 1340.8,736.0 1343.5,732.2 1346.2,737.1 1348.9,742.0 1351.6,743.0 1354.3,744.0 1359.1,946.3 1363.9,943.7 1368.7,739.3 1372.8,739.7 1376.8,740.2 1380.9,740.6 1385.0,741.1 1387.8,738.7 1390.5,736.3 1394.3,734.3 1398.1,732.4 1403.0,738.7 1408.0,745.0 1410.8,746.3 1413.5,747.6 1420.0,949.3 1424.8,946.7 1429.9,739.9 1433.2,738.5 1436.4,737.1 1439.7,740.6 1443.0,744.1 1447.0,744.0 1451.0,743.3 1455.0,742.3 1458.3,744.6 1461.6,746.8 1465.4,742.5 1469.2,738.2 1473.2,738.0 1477.3,737.8 1481.3,737.6 1484.5,739.9 1487.8,742.2 1492.2,743.8 1496.6,745.3 1499.8,742.7 1503.0,740.1 1506.4,730.0 1509.7,732.8 1513.0,735.5 1515.1,738.7 1519.9,938.8 1524.7,936.2" fill="none" stroke="#404cf5" stroke-width="7.2" stroke-linejoin="miter" stroke-miterlimit="2"/>
<polyline points="157.5,692.7 160.3,693.0 163.1,693.2 167.5,704.8 170.2,703.8 173.0,702.8 175.7,700.5 178.4,698.2 182.8,698.8 187.2,688.6 192.1,688.3 197.0,688.1 199.8,684.2 202.5,680.4 207.3,689.7 210.4,688.8 213.4,687.9 217.2,686.4 221.1,685.0 225.0,683.5 228.8,682.0 233.3,682.1 237.8,682.1 242.3,682.2 246.8,682.3 251.4,682.3 255.9,682.4 260.4,682.5 264.9,682.5 269.2,688.9 272.5,687.6 275.8,686.3 279.1,672.0 284.0,676.7 288.9,681.4 293.9,680.0 298.8,678.7 303.2,679.5 307.5,680.4 311.9,681.3 314.6,681.6 317.3,682.0 320.6,692.8 323.9,691.6 327.2,690.4 330.5,678.3 333.2,676.5 336.0,674.8 340.3,685.5 343.6,688.2 346.9,690.8 350.2,681.9 354.5,681.8 357.8,690.5 360.6,689.8 363.3,689.2 367.7,677.0 372.0,676.4 376.4,689.8 379.2,690.3 382.0,690.7 386.3,678.6 390.7,680.6 393.4,683.2 396.1,685.9 398.9,684.1 401.6,682.4 404.9,681.7 408.1,681.1 412.5,682.0 415.8,667.7 418.6,672.0 421.3,676.3 425.6,678.4 430.0,680.4 434.4,683.6 438.1,680.1 442.9,872.3 447.7,869.7 452.5,675.4 455.5,674.5 458.5,673.6 461.8,674.5 465.0,675.4 469.4,672.3 473.8,690.0 478.2,691.4 480.9,686.5 483.6,681.7 488.0,687.4 490.0,682.0 493.3,687.7 496.6,693.3 500.4,692.4 504.2,691.5 508.6,672.0 513.5,673.6 518.4,675.2 523.3,674.6 528.2,674.0 533.2,673.4 538.1,672.8 540.9,668.6 543.6,664.4 546.8,664.7 550.0,664.9 554.5,674.2 557.2,675.2 560.0,676.2 564.4,674.5 568.8,672.8 573.1,671.1 577.5,669.4 581.9,670.1 586.2,670.8 590.6,671.5 593.9,670.3 597.2,669.2 600.0,670.8 602.7,672.4 607.0,678.8 609.8,678.2 612.5,677.6 615.8,665.6 618.5,668.9 621.3,672.1 625.6,679.6 628.9,676.8 632.2,674.0 636.6,671.8 641.0,669.6 643.7,670.1 646.4,670.6 649.1,668.9 651.9,667.2 655.2,668.8 658.5,670.4 661.8,670.9 665.0,671.4 668.3,671.3 671.6,671.3 674.3,675.0 677.0,678.8 679.8,678.2 682.5,677.6 686.9,667.7 690.2,673.2 693.5,678.7 696.2,678.7 699.0,678.8 703.3,671.2 706.0,670.5 708.8,669.7 713.1,670.0 717.5,670.3 720.2,668.7 723.0,667.1 725.8,667.2 728.5,667.2 732.8,660.7 736.1,660.2 739.4,660.5 742.1,665.6 744.9,670.7 749.2,671.8 753.6,682.7 756.3,682.8 759.0,683.0 763.5,672.0 768.4,680.5 773.2,884.3 778.0,881.7 782.8,674.7 785.4,674.1 788.0,673.4 793.0,677.9 795.8,679.7 798.5,681.4 803.6,881.3 808.4,878.7 813.8,679.8 816.5,677.1 819.2,674.0 822.0,677.8 824.7,681.6 827.4,680.0 830.0,678.3 835.0,677.3 840.0,676.3 844.9,676.4 849.7,676.5 853.3,675.5 857.0,674.7 860.6,674.2 865.0,667.8 869.5,669.2 872.1,674.3 874.8,679.4 878.9,679.1 883.0,678.8 887.2,678.5 891.3,678.2 895.6,672.9 900.0,667.7 902.8,672.4 905.5,677.0 909.5,676.4 913.5,675.8 917.5,675.7 921.5,675.6 926.3,884.3 931.1,881.7 935.9,673.0 938.8,674.2 941.6,675.5 947.0,883.3 951.8,880.7 956.6,678.4 960.5,678.0 964.4,678.7 968.3,679.5 972.2,680.3 977.1,682.9 982.0,685.5 987.0,688.0 991.9,690.6 995.7,689.5 999.5,688.4 1003.4,687.3 1007.2,686.1 1010.5,688.1 1013.8,690.0 1018.6,689.7 1023.4,689.3 1028.2,689.0 1033.0,688.6 1037.8,688.2 1040.5,686.6 1043.3,684.9 1048.0,685.5 1052.8,686.8 1056.2,689.1 1059.6,691.3 1063.0,693.5 1067.1,693.3 1071.2,693.2 1075.3,693.0 1079.4,692.7 1084.5,697.8 1089.3,898.3 1094.1,895.7 1099.0,699.2 1101.8,693.9 1104.6,688.5 1109.4,688.8 1114.4,695.6 1117.1,695.8 1119.8,695.9 1124.2,686.3 1127.5,691.2 1130.8,696.2 1135.5,697.3 1140.3,698.4 1145.0,699.6 1149.4,694.1 1152.7,695.2 1155.9,696.4 1158.7,699.1 1161.4,701.9 1164.7,701.6 1168.0,701.4 1170.2,689.5 1175.0,693.2 1178.3,693.5 1181.6,693.9 1185.4,696.1 1189.2,698.4 1193.1,700.6 1196.9,702.9 1201.6,703.7 1206.4,704.5 1211.1,705.2 1215.5,697.1 1218.8,696.1 1222.0,695.0 1226.4,704.7 1230.0,704.6 1233.7,704.5 1237.3,704.5 1241.7,712.0 1244.5,709.2 1247.2,706.4 1251.6,711.7 1254.8,710.6 1258.1,709.5 1260.8,710.5 1263.6,711.5 1266.9,699.4 1269.7,704.0 1272.4,708.6 1277.1,708.1 1281.7,707.6 1286.3,707.1 1291.0,706.6 1295.4,708.0 1299.8,709.4 1304.1,710.9 1308.5,712.3 1312.8,701.6 1315.4,702.0 1318.1,702.3 1322.9,914.3 1327.7,911.7 1332.5,707.8 1335.2,709.8 1338.0,711.9 1340.8,708.4 1343.5,704.9 1346.2,710.0 1348.9,715.1 1351.6,716.3 1354.3,717.6 1359.1,917.3 1363.9,914.7 1368.7,713.9 1372.8,714.6 1376.8,715.4 1380.9,716.1 1385.0,716.9 1387.8,714.5 1390.5,712.0 1394.3,710.1 1398.1,708.1 1403.0,714.5 1408.0,720.8 1410.8,722.1 1413.5,723.4 1420.0,926.3 1424.8,923.7 1429.9,715.8 1433.2,714.4 1436.4,713.0 1439.7,716.5 1443.0,720.0 1447.0,720.0 1451.0,719.3 1455.0,718.3 1458.3,720.6 1461.6,722.8 1465.4,718.5 1469.2,714.2 1473.2,714.0 1477.3,713.8 1481.3,713.6 1484.5,715.9 1487.8,718.2 1492.2,719.8 1496.6,721.3 1499.8,718.7 1503.0,716.1 1506.4,706.0 1509.7,708.8 1513.0,711.5 1515.1,714.7 1519.9,915.1 1524.7,912.5" fill="none" stroke="#e5117c" stroke-width="7.2" stroke-linejoin="miter" stroke-miterlimit="2"/>
<polyline points="157.5,655.3 160.3,655.5 163.1,655.8 167.5,667.5 170.2,666.6 173.0,665.7 175.7,663.4 178.4,661.1 182.8,661.9 187.2,651.7 192.1,651.6 197.0,651.5 199.8,647.6 202.5,643.8 207.3,653.2 210.4,652.4 213.4,651.6 217.2,650.2 221.1,648.8 225.0,647.4 228.8,646.0 233.3,646.2 237.8,646.3 242.3,646.5 246.8,646.6 251.4,646.8 255.9,647.0 260.4,647.1 264.9,647.3 269.2,653.7 272.5,652.5 275.8,651.3 279.1,637.0 284.0,642.0 288.9,646.9 293.9,645.8 298.8,644.7 303.2,645.8 307.5,646.9 311.9,648.0 314.6,648.5 317.3,649.0 320.6,660.0 323.9,658.8 327.2,657.7 330.5,645.6 333.2,643.9 336.0,642.2 340.3,653.0 343.6,655.7 346.9,658.3 350.2,649.5 354.5,649.4 357.8,658.1 360.6,657.5 363.3,656.9 367.7,644.8 372.0,644.2 376.4,657.7 379.2,658.2 382.0,658.7 386.3,646.6 390.7,648.6 393.4,651.2 396.1,653.9 398.9,652.2 401.6,650.5 404.9,649.9 408.1,649.3 412.5,650.3 415.8,636.0 418.6,640.5 421.3,644.9 425.6,647.2 430.0,649.4 434.4,652.8 438.1,649.6 442.9,843.3 447.7,840.7 452.5,645.6 455.5,644.9 458.5,644.2 461.8,645.0 465.0,645.8 469.4,642.5 473.8,660.0 478.2,661.1 480.9,656.1 483.6,651.2 488.0,656.7 490.0,651.2 493.3,656.7 496.6,662.2 500.4,661.1 504.2,660.0 508.6,640.3 513.5,642.2 518.4,644.1 523.3,643.8 528.2,643.5 533.2,643.2 538.1,642.9 540.9,638.8 543.6,634.8 546.8,635.1 550.0,635.3 554.5,644.6 557.2,645.6 560.0,646.6 564.4,644.9 568.8,643.2 573.1,641.5 577.5,639.8 581.9,640.5 586.2,641.2 590.6,641.9 593.9,640.7 597.2,639.6 600.0,641.2 602.7,642.8 607.0,649.2 609.8,648.6 612.5,648.0 615.8,636.0 618.5,639.3 621.3,642.6 625.6,650.2 628.9,647.4 632.2,644.7 636.6,642.5 641.0,640.4 643.7,640.9 646.4,641.5 649.1,639.8 651.9,638.1 655.2,639.8 658.5,641.4 661.8,642.0 665.0,642.5 668.3,642.5 671.6,642.5 674.3,646.3 677.0,650.1 679.8,649.6 682.5,649.0 686.9,639.2 690.2,644.6 693.5,650.1 696.2,650.0 699.0,650.0 703.3,642.4 706.0,641.6 708.8,640.8 713.1,641.0 717.5,641.2 720.2,639.5 723.0,637.9 725.8,637.9 728.5,637.8 732.8,631.2 736.1,630.7 739.4,631.4 742.1,636.8 744.9,642.2 749.2,643.8 753.6,655.2 756.3,655.7 759.0,656.1 763.5,645.6 768.4,654.5 773.2,855.3 778.0,852.7 782.8,649.6 785.4,649.1 788.0,648.7 793.0,653.2 795.8,654.1 798.5,655.1 803.6,852.3 808.4,849.7 813.8,649.2 816.5,645.8 819.2,642.4 822.0,646.5 824.7,650.6 827.4,649.2 830.0,647.9 835.0,647.3 840.0,646.8 844.9,647.4 849.7,648.0 853.3,639.5 857.0,632.6 860.6,631.9 865.0,625.2 869.5,626.3 872.1,631.2 874.8,636.2 878.9,635.6 883.0,635.0 887.2,634.4 891.3,633.9 895.6,628.3 900.0,622.8 902.8,627.3 905.5,631.7 909.5,630.7 913.5,629.9 917.5,629.8 921.5,629.7 926.3,839.3 931.1,836.7 935.9,627.1 938.8,628.3 941.6,629.6 947.0,839.3 951.8,836.7 956.6,632.5 960.5,632.1 964.4,632.8 968.3,633.6 972.2,634.4 977.1,637.0 982.0,639.6 987.0,642.1 991.9,644.7 995.7,643.2 999.5,641.6 1003.4,640.1 1007.2,638.5 1010.5,640.1 1013.8,641.7 1018.6,640.8 1023.4,639.9 1028.2,639.0 1033.0,638.1 1037.8,637.2 1040.5,635.2 1043.3,633.3 1048.0,633.3 1052.8,634.5 1056.2,636.6 1059.6,638.8 1063.0,640.9 1067.1,640.6 1071.2,640.3 1075.3,640.1 1079.4,639.7 1084.5,644.5 1089.3,845.3 1094.1,842.7 1099.0,645.1 1101.8,639.5 1104.6,634.0 1109.4,634.2 1114.4,641.0 1117.1,641.1 1119.8,641.2 1124.2,631.9 1127.5,637.5 1130.8,643.2 1135.5,645.4 1140.3,647.6 1145.0,649.8 1149.4,645.3 1152.7,647.1 1155.9,649.0 1158.7,652.4 1161.4,655.8 1164.7,656.5 1168.0,657.3 1170.2,646.1 1175.0,651.5 1178.3,652.8 1181.6,654.2 1185.4,656.5 1189.2,658.7 1193.1,660.9 1196.9,663.0 1201.6,663.7 1206.4,664.4 1211.1,665.0 1215.5,656.8 1218.8,655.7 1222.0,654.5 1226.4,664.1 1230.0,663.9 1233.7,663.8 1237.3,663.6 1241.7,671.0 1244.5,668.2 1247.2,665.3 1251.6,670.5 1254.8,669.3 1258.1,668.1 1260.8,669.0 1263.6,670.0 1266.9,657.8 1269.7,662.4 1272.4,667.0 1277.1,666.5 1281.7,666.0 1286.3,665.5 1291.0,665.0 1295.4,666.4 1299.8,667.8 1304.1,669.3 1308.5,670.7 1312.8,660.0 1315.4,660.4 1318.1,660.7 1322.9,871.3 1327.7,868.7 1332.5,666.1 1335.2,668.1 1338.0,670.2 1340.8,666.7 1343.5,663.2 1346.2,668.2 1348.9,673.2 1351.6,674.4 1354.3,675.6 1359.1,874.3 1363.9,871.7 1368.7,671.5 1372.8,672.2 1376.8,672.8 1380.9,673.5 1385.0,674.1 1387.8,671.7 1390.5,669.3 1394.3,667.3 1398.1,665.4 1403.0,671.8 1408.0,678.1 1410.8,679.4 1413.5,680.7 1420.0,882.3 1424.8,879.7 1429.9,673.1 1433.2,671.7 1436.4,670.3 1439.7,673.8 1443.0,677.4 1447.0,677.3 1451.0,676.6 1455.0,675.6 1458.3,677.9 1461.6,680.1 1465.4,675.8 1469.2,671.5 1473.2,671.3 1477.3,671.1 1481.3,670.9 1484.5,673.2 1487.8,675.5 1492.2,677.1 1496.6,678.6 1499.8,676.0 1503.0,673.4 1506.4,663.3 1509.7,666.0 1513.0,668.8 1515.1,672.0 1519.9,872.4 1524.7,869.8" fill="none" stroke="#f5ab27" stroke-width="7.2" stroke-linejoin="miter" stroke-miterlimit="2"/>
<polyline points="157.5,610.8 160.3,611.3 163.1,611.8 167.5,623.9 170.2,623.2 173.0,622.5 175.7,620.5 178.4,618.4 182.8,619.5 187.2,609.7 192.1,610.0 197.0,610.3 199.8,606.7 202.5,603.1 207.3,612.9 210.4,612.4 213.4,611.8 217.2,610.7 221.1,609.6 225.0,608.6 228.8,607.5 233.3,607.8 237.8,608.0 242.3,608.3 246.8,608.6 251.4,608.9 255.9,609.1 260.4,609.4 264.9,609.7 269.2,616.2 272.5,615.1 275.8,614.0 279.1,599.8 284.0,604.8 288.9,609.7 293.9,608.6 298.8,607.5 303.2,608.6 307.5,609.7 311.9,610.8 314.6,611.3 317.3,611.8 320.6,622.8 323.9,621.8 327.2,620.7 330.5,608.8 333.2,607.2 336.0,605.6 340.3,616.6 343.6,619.5 346.9,622.3 350.2,613.6 354.5,613.7 357.8,622.6 360.6,622.1 363.3,621.6 367.7,609.7 372.0,609.3 376.4,623.0 379.2,623.6 382.0,624.2 386.3,612.3 390.7,614.5 393.4,617.3 396.1,620.1 398.9,618.6 401.6,617.0 404.9,616.5 408.1,616.0 412.5,617.2 415.8,603.1 418.6,607.4 421.3,611.8 425.6,613.8 430.0,615.9 434.4,619.0 438.1,615.6 442.9,810.3 447.7,807.7 452.5,611.0 455.5,610.1 458.5,609.2 461.8,610.0 465.0,610.8 469.4,607.5 473.8,625.0 478.2,626.1 480.9,621.1 483.6,616.2 488.0,621.7 490.0,616.2 493.3,621.7 496.6,627.2 500.4,626.1 504.2,625.0 508.6,605.3 513.5,607.5 518.4,609.7 523.3,609.7 528.2,609.7 533.2,609.7 538.1,609.7 540.9,605.9 543.6,602.0 546.8,602.3 550.0,602.5 554.5,611.7 557.2,612.7 560.0,613.8 564.4,612.1 568.8,610.4 573.1,608.7 577.5,607.0 581.9,607.7 586.2,608.3 590.6,609.0 593.9,607.8 597.2,606.7 600.0,608.3 602.7,609.9 607.0,616.3 609.8,615.7 612.5,615.2 615.8,603.1 618.5,606.4 621.3,609.7 625.6,617.3 628.9,614.5 632.2,611.8 636.6,609.6 641.0,607.5 643.7,608.0 646.4,608.6 649.1,607.0 651.9,605.3 655.2,607.0 658.5,608.6 661.8,609.1 665.0,609.7 668.3,609.7 671.6,609.7 674.3,613.5 677.0,617.3 679.8,616.8 682.5,616.2 686.9,606.4 690.2,611.8 693.5,617.3 696.2,617.2 699.0,617.2 703.3,609.6 706.0,608.8 708.8,608.0 713.1,608.2 717.5,608.4 720.2,606.7 723.0,605.1 725.8,605.1 728.5,605.0 732.8,598.4 736.1,597.9 739.4,597.4 742.1,601.9 744.9,606.4 749.2,606.5 753.6,616.4 756.3,616.0 759.0,615.5 763.5,603.6 768.4,612.5 773.2,814.3 778.0,811.7 782.8,607.6 785.4,607.1 788.0,606.7 793.0,611.2 795.8,612.4 798.5,613.5 803.6,813.3 808.4,810.7 813.8,608.5 816.5,605.3 819.2,601.8 822.0,605.9 824.7,609.9 827.4,608.4 830.0,606.9 835.0,606.3 840.0,605.6 844.9,606.0 849.7,606.4 853.3,605.8 857.0,605.2 860.6,604.7 865.0,598.5 869.5,599.9 872.1,605.0 874.8,610.2 878.9,609.9 883.0,609.7 887.2,609.4 891.3,609.2 895.6,604.0 900.0,598.8 902.8,603.2 905.5,607.7 909.5,606.7 913.5,605.7 917.5,605.4 921.5,605.0 926.3,817.3 931.1,814.7 935.9,601.4 938.8,602.5 941.6,603.5 947.0,814.3 951.8,811.7 956.6,605.4 960.5,604.8 964.4,604.3 968.3,603.9 972.2,603.5 977.1,604.5 982.0,605.5 987.0,606.5 991.9,607.5 995.7,606.4 999.5,605.2 1003.4,604.1 1007.2,603.0 1010.5,604.9 1013.8,606.8 1018.6,606.5 1023.4,606.1 1028.2,605.7 1033.0,605.4 1037.8,605.0 1040.5,603.3 1043.3,601.6 1048.0,602.2 1052.8,602.8 1056.2,604.3 1059.6,605.8 1063.0,607.3 1067.1,606.2 1071.2,605.2 1075.3,604.2 1079.4,603.0 1084.5,606.8 1089.3,811.3 1094.1,808.7 1099.0,604.6 1101.8,598.5 1104.6,592.5 1109.4,592.4 1114.4,599.3 1117.1,599.5 1119.8,599.6 1124.2,590.2 1127.5,595.6 1130.8,601.0 1135.5,602.8 1140.3,604.6 1145.0,606.4 1149.4,601.5 1152.7,603.1 1155.9,604.7 1158.7,607.9 1161.4,611.0 1164.7,611.7 1168.0,612.5 1170.2,601.4 1175.0,606.7 1178.3,608.1 1181.6,609.5 1185.4,611.3 1189.2,613.0 1193.1,614.6 1196.9,616.3 1201.6,616.3 1206.4,616.2 1211.1,616.2 1215.5,607.4 1218.8,605.8 1222.0,604.2 1226.4,613.9 1230.0,613.8 1233.7,613.7 1237.3,613.7 1241.7,621.2 1244.5,618.4 1247.2,615.6 1251.6,620.9 1254.8,619.8 1258.1,618.7 1260.8,619.7 1263.6,620.7 1266.9,608.6 1269.7,613.1 1272.4,617.5 1277.1,616.8 1281.7,616.1 1286.3,615.4 1291.0,614.7 1295.4,615.9 1299.8,617.1 1304.1,618.3 1308.5,619.5 1312.8,608.6 1315.4,608.4 1318.1,608.2 1322.9,818.3 1327.7,815.7 1332.5,610.4 1335.2,611.8 1338.0,613.3 1340.8,609.2 1343.5,605.2 1346.2,610.1 1348.9,615.1 1351.6,616.2 1354.3,617.3 1359.1,815.3 1363.9,812.7 1368.7,612.9 1372.8,613.5 1376.8,614.0 1380.9,614.5 1385.0,615.1 1387.8,612.5 1390.5,609.9 1394.3,607.6 1398.1,605.4 1403.0,611.6 1408.0,617.9 1410.8,619.1 1413.5,620.3 1420.0,821.3 1424.8,818.7 1429.9,612.4 1433.2,610.9 1436.4,609.4 1439.7,612.8 1443.0,616.3 1447.0,616.1 1451.0,615.5 1455.0,614.8 1458.3,617.3 1461.6,619.7 1465.4,615.6 1469.2,611.5 1473.2,611.5 1477.3,611.6 1481.3,611.6 1484.5,614.1 1487.8,616.5 1492.2,618.3 1496.6,620.2 1499.8,617.7 1503.0,615.3 1506.4,605.3 1509.7,608.0 1513.0,610.8 1515.1,614.0 1519.9,815.5 1524.7,812.9" fill="none" stroke="#e8fb62" stroke-width="7.2" stroke-linejoin="miter" stroke-miterlimit="2"/>
<polyline points="157.5,481.3 160.3,481.8 163.1,482.3 167.5,494.4 170.2,493.7 173.0,493.0 175.7,490.9 178.4,488.9 182.8,490.0 187.2,480.2 192.1,480.5 197.0,480.8 199.8,477.2 202.5,473.6 207.3,483.4 210.4,482.9 213.4,482.3 217.2,481.2 221.1,480.1 225.0,479.1 228.8,478.0 233.3,478.3 237.8,478.6 242.3,478.8 246.8,479.1 251.4,479.4 255.9,479.6 260.4,479.9 264.9,480.2 269.2,486.7 272.5,485.6 275.8,484.5 279.1,470.3 284.0,475.2 288.9,480.2 293.9,479.1 298.8,478.0 303.2,479.1 307.5,480.2 311.9,481.3 314.6,481.8 317.3,482.3 320.6,493.3 323.9,492.2 327.2,491.1 330.5,479.1 333.2,477.5 336.0,475.8 340.3,486.7 343.6,489.4 346.9,492.2 350.2,483.4 354.5,483.4 357.8,492.2 360.6,491.6 363.3,491.1 367.7,479.1 372.0,478.6 376.4,492.2 379.2,492.8 382.0,493.3 386.3,481.3 390.7,483.4 393.4,486.1 396.1,488.9 398.9,487.2 401.6,485.6 404.9,485.1 408.1,484.5 412.5,485.6 415.8,471.4 418.6,475.8 421.3,480.2 425.6,482.4 430.0,484.5 434.4,487.8 438.1,484.5 442.9,678.3 447.7,675.7 452.5,480.2 455.5,479.4 458.5,478.6 461.8,479.4 465.0,480.2 469.4,476.9 473.8,494.4 478.2,495.5 480.9,490.6 483.6,485.6 488.0,491.1 490.0,485.6 493.3,491.1 496.6,496.6 500.4,495.5 504.2,494.4 508.6,474.7 513.5,476.9 518.4,479.1 523.3,479.1 528.2,479.1 533.2,479.1 538.1,479.1 540.9,475.2 543.6,471.4 546.8,471.7 550.0,472.0 554.5,481.3 557.2,482.4 560.0,483.4 564.4,481.8 568.8,480.1 573.1,478.5 577.5,476.9 581.9,477.6 586.2,478.4 590.6,479.1 593.9,478.0 597.2,476.9 600.0,478.5 602.7,480.2 607.0,486.7 609.8,486.1 612.5,485.6 615.8,473.6 618.5,476.9 621.3,480.2 625.6,487.8 628.9,485.1 632.2,482.3 636.6,480.1 641.0,478.0 643.7,478.6 646.4,479.1 649.1,477.5 651.9,475.8 655.2,477.5 658.5,479.1 661.8,479.6 665.0,480.2 668.3,480.2 671.6,480.2 674.3,484.0 677.0,487.8 679.8,487.2 682.5,486.7 686.9,476.9 690.2,482.4 693.5,487.8 696.2,487.8 699.0,487.8 703.3,480.2 706.0,479.4 708.8,478.6 713.1,478.9 717.5,479.1 720.2,477.5 723.0,475.8 725.8,475.8 728.5,475.8 732.8,469.2 736.1,468.6 739.4,468.1 742.1,472.5 744.9,476.9 749.2,476.9 753.6,486.7 756.3,486.1 759.0,485.6 763.5,473.6 768.4,482.3 773.2,686.3 778.0,683.7 782.8,476.9 785.4,476.4 788.0,475.8 793.0,480.2 795.8,481.2 798.5,482.3 803.6,683.3 808.4,680.7 813.8,476.9 816.5,473.6 819.2,470.3 822.0,474.7 824.7,479.1 827.4,478.0 830.0,476.9 835.0,476.9 840.0,476.9 844.9,478.0 849.7,479.1 853.3,478.4 857.0,477.6 860.6,476.9 865.0,470.3 869.5,471.4 872.1,476.4 874.8,481.3 878.9,480.8 883.0,480.2 887.2,479.7 891.3,479.1 895.6,473.6 900.0,468.1 902.8,473.1 905.5,478.0 909.5,477.7 913.5,477.4 917.5,477.2 921.5,476.9 926.3,686.3 931.1,683.7 935.9,473.6 938.8,474.7 941.6,475.8 947.0,683.3 951.8,680.7 956.6,478.0 960.5,477.4 964.4,476.9 968.3,476.4 972.2,475.8 977.1,476.6 982.0,477.5 987.0,478.3 991.9,479.1 995.7,478.0 999.5,476.9 1003.4,475.8 1007.2,474.7 1010.5,476.6 1013.8,478.6 1018.6,478.3 1023.4,477.9 1028.2,477.6 1033.0,477.2 1037.8,476.9 1040.5,475.2 1043.3,473.6 1048.0,474.1 1052.8,474.7 1056.2,476.2 1059.6,477.6 1063.0,479.1 1067.1,478.0 1071.2,476.9 1075.3,475.8 1079.4,474.7 1084.5,479.5 1089.3,685.3 1094.1,682.7 1099.0,480.2 1101.8,474.7 1104.6,469.2 1109.4,469.2 1114.4,475.8 1117.1,475.8 1119.8,475.8 1124.2,466.0 1127.5,470.9 1130.8,475.8 1135.5,476.9 1140.3,478.0 1145.0,479.1 1149.4,473.6 1152.7,474.7 1155.9,475.8 1158.7,478.6 1161.4,481.3 1164.7,480.8 1168.0,480.2 1170.2,468.1 1175.0,471.4 1178.3,471.4 1181.6,471.4 1185.4,473.0 1189.2,474.7 1193.1,476.4 1196.9,478.0 1201.6,478.0 1206.4,478.0 1211.1,478.0 1215.5,469.2 1218.8,467.6 1222.0,466.0 1226.4,475.8 1230.0,475.8 1233.7,475.8 1237.3,475.8 1241.7,483.4 1244.5,480.7 1247.2,478.0 1251.6,483.4 1254.8,482.4 1258.1,481.3 1260.8,482.4 1263.6,483.4 1266.9,471.4 1269.7,475.8 1272.4,480.2 1277.1,479.4 1281.7,478.5 1286.3,477.7 1291.0,476.9 1295.4,478.0 1299.8,479.1 1304.1,480.2 1308.5,481.3 1312.8,470.3 1315.4,470.3 1318.1,470.3 1322.9,681.3 1327.7,678.7 1332.5,473.6 1335.2,475.2 1338.0,476.9 1340.8,473.0 1343.5,469.2 1346.2,474.1 1348.9,479.1 1351.6,480.2 1354.3,481.3 1359.1,683.3 1363.9,680.7 1368.7,476.9 1372.8,477.4 1376.8,478.0 1380.9,478.6 1385.0,479.1 1387.8,476.9 1390.5,474.7 1394.3,473.0 1398.1,471.4 1403.0,477.4 1408.0,483.4 1410.8,484.5 1413.5,485.6 1420.0,684.3 1424.8,681.7 1429.9,476.9 1433.2,475.2 1436.4,473.6 1439.7,476.9 1443.0,480.2 1447.0,479.8 1451.0,479.5 1455.0,479.1 1458.3,481.8 1461.6,484.5 1465.4,480.7 1469.2,476.9 1473.2,477.3 1477.3,477.6 1481.3,478.0 1484.5,480.7 1487.8,483.4 1492.2,485.6 1496.6,487.8 1499.8,485.6 1503.0,483.4 1506.4,473.6 1509.7,476.4 1513.0,479.1 1515.1,482.3 1519.9,683.9 1524.7,681.3" fill="none" stroke="#ee553b" stroke-width="7.2" stroke-linejoin="miter" stroke-miterlimit="2"/>
<polyline points="147.0,453.8 1532.2,453.8" fill="none" stroke="#b0b0b0" stroke-width="8" stroke-linejoin="miter" stroke-miterlimit="2"/>
<line x1="158.2" y1="486" x2="158.2" y2="607" stroke="#000" stroke-width="1.8"/>
<g fill="#505050" fill-opacity="0.12"><polygon points="496,582 578.8,582 578.8,662"/><polygon points="496,624 496,668 540,668"/>
<text x="601" y="659.5" font-family="Liberation Sans, sans-serif" font-size="95" textLength="497" lengthAdjust="spacingAndGlyphs">OurNetwork</text></g>
</g>
<text transform="translate(74.6 138.5) scale(1 1.045)" font-family="Liberation Mono, monospace" font-size="55.9" text-anchor="start" fill="#000" stroke="#000" stroke-width="0.9">$UNI HODL Waves</text>
<text transform="translate(81.2 196.0) scale(1 1.060)" font-family="Liberation Mono, monospace" font-size="36.4" text-anchor="start" fill="#000" stroke="#000" stroke-width="0.5">Year to Date</text>
<text transform="translate(761.5 281.0) scale(1 1.100)" font-family="Liberation Mono, monospace" font-size="32.2" text-anchor="middle" fill="#000" font-weight="bold">09-25-2024</text>
<rect x="78" y="322.0" width="71" height="7.7" fill="#b0b0b0"/>
<rect x="78" y="329.7" width="71" height="7.8" fill="#d3d3d3"/>
<text transform="translate(158.5 343.8) scale(1 1.060)" font-family="Liberation Mono, monospace" font-size="32.4" text-anchor="start" fill="#000">1d (43.55%)</text>
<rect x="410" y="322.0" width="71" height="7.7" fill="#ee553b"/>
<rect x="410" y="329.7" width="71" height="7.8" fill="#f1a498"/>
<text transform="translate(490.5 343.8) scale(1 1.060)" font-family="Liberation Mono, monospace" font-size="32.4" text-anchor="start" fill="#000">&gt;2yr (25.01%)</text>
<rect x="762" y="322.0" width="71" height="7.7" fill="#e8fb62"/>
<rect x="762" y="329.7" width="71" height="7.8" fill="#eef8ab"/>
<text transform="translate(842.5 343.8) scale(1 1.060)" font-family="Liberation Mono, monospace" font-size="32.4" text-anchor="start" fill="#000">6m-1yr (10.82%)</text>
<rect x="1152" y="322.0" width="71" height="7.7" fill="#f5ab27"/>
<rect x="1152" y="329.7" width="71" height="7.8" fill="#f4d08e"/>
<text transform="translate(1232.5 343.8) scale(1 1.060)" font-family="Liberation Mono, monospace" font-size="32.4" text-anchor="start" fill="#000">1yr-2yr (8.11%)</text>
<rect x="78" y="369.5" width="71" height="7.7" fill="#e5117c"/>
<rect x="78" y="377.2" width="71" height="7.8" fill="#ec82b8"/>
<text transform="translate(158.5 391.3) scale(1 1.060)" font-family="Liberation Mono, monospace" font-size="32.4" text-anchor="start" fill="#000">3m-6m (4.50%)</text>
<rect x="410" y="369.5" width="71" height="7.7" fill="#404cf5"/>
<rect x="410" y="377.2" width="71" height="7.8" fill="#9aa0f4"/>
<text transform="translate(490.5 391.3) scale(1 1.060)" font-family="Liberation Mono, monospace" font-size="32.4" text-anchor="start" fill="#000">1m-3m (2.89%)</text>
<rect x="764" y="369.5" width="71" height="7.7" fill="#303030"/>
<rect x="764" y="377.2" width="71" height="7.8" fill="#929292"/>
<text transform="translate(844.5 391.3) scale(1 1.060)" font-family="Liberation Mono, monospace" font-size="32.4" text-anchor="start" fill="#000">1d- 1w (2.59%)</text>
<rect x="1152" y="369.5" width="71" height="7.7" fill="#00cc96"/>
<rect x="1152" y="377.2" width="71" height="7.8" fill="#7ae0c5"/>
<text transform="translate(1232.5 391.3) scale(1 1.060)" font-family="Liberation Mono, monospace" font-size="32.4" text-anchor="start" fill="#000">1w-1m (2.54%)</text>
<text transform="translate(154.5 466.1) scale(1 1.060)" font-family="Liberation Mono, monospace" font-size="36.5" text-anchor="end" fill="#000">100%</text>
<text transform="translate(154.5 571.3) scale(1 1.060)" font-family="Liberation Mono, monospace" font-size="36.5" text-anchor="end" fill="#000">80%</text>
<text transform="translate(154.5 676.6) scale(1 1.060)" font-family="Liberation Mono, monospace" font-size="36.5" text-anchor="end" fill="#000">60%</text>
<text transform="translate(154.5 781.8) scale(1 1.060)" font-family="Liberation Mono, monospace" font-size="36.5" text-anchor="end" fill="#000">40%</text>
<text transform="translate(154.5 887.1) scale(1 1.060)" font-family="Liberation Mono, monospace" font-size="36.5" text-anchor="end" fill="#000">20%</text>
<text transform="translate(154.5 992.3) scale(1 1.060)" font-family="Liberation Mono, monospace" font-size="36.5" text-anchor="end" fill="#000">0%</text>
<text transform="translate(157.5 1017.8) scale(1 1.060)" font-family="Liberation Mono, monospace" font-size="37.0" text-anchor="middle" fill="#000">Jan 24</text>
<text transform="translate(463.1 1017.8) scale(1 1.060)" font-family="Liberation Mono, monospace" font-size="37.0" text-anchor="middle" fill="#000">Mar 24</text>
<text transform="translate(773.8 1017.8) scale(1 1.060)" font-family="Liberation Mono, monospace" font-size="37.0" text-anchor="middle" fill="#000">May 24</text>
<text transform="translate(1084.5 1017.8) scale(1 1.060)" font-family="Liberation Mono, monospace" font-size="37.0" text-anchor="middle" fill="#000">Jul 24</text>
<text transform="translate(1400.1 1017.8) scale(1 1.060)" font-family="Liberation Mono, monospace" font-size="37.0" text-anchor="middle" fill="#000">Sep 24</text>
<line x1="62" y1="1050.7" x2="1524" y2="1050.7" stroke="#cdc8c6" stroke-width="2"/>
<text transform="translate(66.0 1110.5) scale(1 1.060)" font-family="Liberation Mono, monospace" font-size="30.0" text-anchor="start" fill="#000" letter-spacing="3.2">Source:</text>
<text x="217.5" y="1113" font-family="Liberation Sans, sans-serif" font-size="28.5" font-weight="bold" fill="#2b2e45" stroke="#2b2e45" stroke-width="0.5" textLength="71" lengthAdjust="spacingAndGlyphs">COIN</text>
<text x="289" y="1113" font-family="Liberation Sans, sans-serif" font-size="28.5" fill="#4a4d62" textLength="117" lengthAdjust="spacingAndGlyphs">METRICS</text>
<g fill="#1a1a1a"><polygon points="1232,1082 1272,1082 1272,1122.8"/><polygon points="1232,1106 1232,1124 1250,1124"/>
<text x="1281" y="1120" font-family="Liberation Sans, sans-serif" font-size="46.5" textLength="239" lengthAdjust="spacingAndGlyphs">OurNetwork</text></g>
<rect x="1432" y="73.6" width="89.7" height="90.2" rx="12.5" fill="url(#lg)"/>
<g fill="#0f1a14"><polygon points="1458.8,99.1 1496.9,99.1 1496.9,137.7"/><polygon points="1457.3,119.7 1457.3,138.8 1476.3,138.8"/></g>
</svg>
</body></html>
